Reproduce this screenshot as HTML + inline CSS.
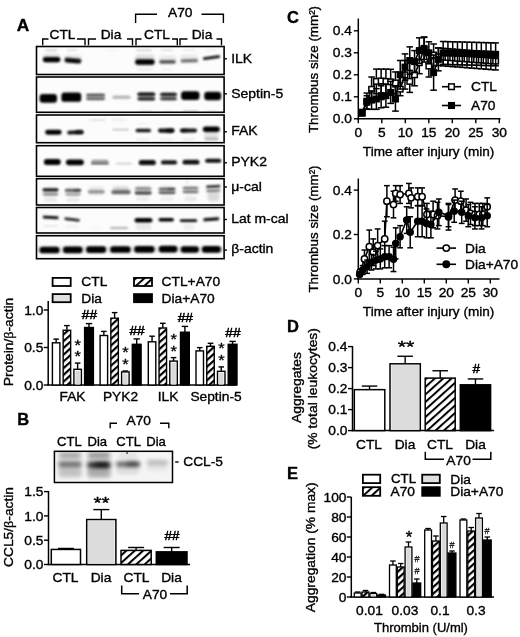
<!DOCTYPE html>
<html><head><meta charset="utf-8"><title>Figure</title>
<style>
html,body{margin:0;padding:0;background:#fff;}
body{width:520px;height:637px;overflow:hidden;}
svg{display:block;font-family:"Liberation Sans",Arial,sans-serif;}
</style></head><body>
<svg width="520" height="637" viewBox="0 0 520 637">
<rect width="520" height="637" fill="#fff"/>
<defs>
<filter id="bl" x="-30%" y="-100%" width="160%" height="300%"><feGaussianBlur stdDeviation="1.25 0.95"/></filter>
<filter id="bl2" x="-30%" y="-100%" width="160%" height="300%"><feGaussianBlur stdDeviation="1.8 1.4"/></filter>
<filter id="bl3" x="-30%" y="-100%" width="160%" height="300%"><feGaussianBlur stdDeviation="2.3 1.9"/></filter>
<filter id="soft" x="-5%" y="-5%" width="110%" height="110%"><feGaussianBlur stdDeviation="0.35"/></filter>
<pattern id="hat" width="5" height="5" patternUnits="userSpaceOnUse" patternTransform="rotate(-42)"><rect width="5" height="5" fill="#fff"/><rect width="5" height="2.2" fill="#000"/></pattern>
<pattern id="hat2" width="5.6" height="5.6" patternUnits="userSpaceOnUse" patternTransform="rotate(-42)"><rect width="5.6" height="5.6" fill="#fff"/><rect width="5.6" height="2.0" fill="#000"/></pattern>
</defs>
<text transform="translate(16.70,30.60) scale(1.05,1)" font-size="16.5" text-anchor="start" font-weight="bold" fill="#000" stroke="#000" stroke-width="0.35">A</text>
<text transform="translate(17.30,425.00) scale(1.0,1)" font-size="16.5" text-anchor="start" font-weight="bold" fill="#000" stroke="#000" stroke-width="0.35">B</text>
<text transform="translate(287.00,23.00) scale(1.0,1)" font-size="16.5" text-anchor="start" font-weight="bold" fill="#000" stroke="#000" stroke-width="0.35">C</text>
<text transform="translate(287.00,332.00) scale(1.0,1)" font-size="16.5" text-anchor="start" font-weight="bold" fill="#000" stroke="#000" stroke-width="0.35">D</text>
<text transform="translate(287.00,478.70) scale(1.0,1)" font-size="16.5" text-anchor="start" font-weight="bold" fill="#000" stroke="#000" stroke-width="0.35">E</text>
<rect x="36.50" y="46.50" width="187.60" height="28.00" fill="#fcfcfc" stroke="#000" stroke-width="1.6"/>
<clipPath id="c46"><rect x="37.2" y="47.2" width="186.2" height="26.6"/></clipPath>
<g clip-path="url(#c46)">
<rect x="42.90" y="56.95" width="17.40" height="5.30" rx="2.65" fill="#000" opacity="1.0" filter="url(#bl)"/>
<rect x="64.45" y="58.15" width="16.90" height="4.90" rx="2.45" fill="#000" opacity="0.97" filter="url(#bl)" transform="rotate(5 72.9 60.6)"/>
<rect x="135.20" y="59.25" width="19.40" height="5.50" rx="2.75" fill="#000" opacity="1.0" filter="url(#bl)"/>
<rect x="159.30" y="60.15" width="16.40" height="3.30" rx="1.65" fill="#000" opacity="0.68" filter="url(#bl)"/>
<rect x="180.60" y="59.25" width="17.40" height="3.10" rx="1.55" fill="#000" opacity="0.55" filter="url(#bl)" transform="rotate(-2 189.3 60.8)"/>
<rect x="202.80" y="56.15" width="17.40" height="2.90" rx="1.45" fill="#000" opacity="0.97" filter="url(#bl)" transform="rotate(-8 211.5 57.6)"/>
<rect x="44.80" y="49.75" width="12.40" height="0.90" rx="0.45" fill="#000" opacity="0.3" filter="url(#bl)"/>
<rect x="66.80" y="49.75" width="10.40" height="0.90" rx="0.45" fill="#000" opacity="0.22" filter="url(#bl)"/>
<rect x="136.30" y="49.65" width="15.40" height="1.10" rx="0.55" fill="#000" opacity="0.3" filter="url(#bl)"/>
<rect x="160.80" y="49.75" width="12.40" height="0.90" rx="0.45" fill="#000" opacity="0.2" filter="url(#bl)"/>
<rect x="182.30" y="49.75" width="13.40" height="0.90" rx="0.45" fill="#000" opacity="0.13" filter="url(#bl)"/>
<rect x="205.30" y="49.55" width="11.40" height="0.90" rx="0.45" fill="#000" opacity="0.1" filter="url(#bl)"/>
<rect x="106.30" y="50.05" width="11.40" height="0.90" rx="0.45" fill="#000" opacity="0.07" filter="url(#bl)"/>
<rect x="137.30" y="68.85" width="15.40" height="1.30" rx="0.65" fill="#000" opacity="0.1" filter="url(#bl)"/>
<rect x="161.30" y="68.85" width="11.40" height="1.30" rx="0.65" fill="#000" opacity="0.06" filter="url(#bl)"/>
<rect x="42.80" y="53.50" width="17.60" height="9.00" rx="3.20" fill="#000" opacity="0.1" filter="url(#bl2)"/>
<rect x="64.10" y="54.50" width="17.60" height="9.00" rx="3.20" fill="#000" opacity="0.08" filter="url(#bl2)"/>
<rect x="135.10" y="54.50" width="19.60" height="11.00" rx="3.20" fill="#000" opacity="0.12" filter="url(#bl2)"/>
<rect x="158.70" y="55.50" width="17.60" height="9.00" rx="3.20" fill="#000" opacity="0.08" filter="url(#bl2)"/>
<rect x="180.50" y="54.50" width="17.60" height="9.00" rx="3.20" fill="#000" opacity="0.07" filter="url(#bl2)"/>
</g>
<line x1="224.40" y1="58.80" x2="226.90" y2="58.80" stroke="#000" stroke-width="1.4" stroke-linecap="butt"/>
<text transform="translate(231.20,62.90) scale(1.075,1)" font-size="13" text-anchor="start" fill="#000" stroke="#000" stroke-width="0.35">ILK</text>
<rect x="36.50" y="77.00" width="187.60" height="35.30" fill="#fcfcfc" stroke="#000" stroke-width="1.6"/>
<clipPath id="c77"><rect x="37.2" y="77.7" width="186.2" height="33.9"/></clipPath>
<g clip-path="url(#c77)">
<rect x="39.60" y="93.90" width="17.40" height="8.80" rx="3.20" fill="#000" opacity="1.0" filter="url(#bl)"/>
<rect x="61.35" y="92.55" width="19.90" height="9.30" rx="3.20" fill="#000" opacity="1.0" filter="url(#bl)"/>
<rect x="86.15" y="93.85" width="18.90" height="2.30" rx="1.15" fill="#000" opacity="0.62" filter="url(#bl)"/>
<rect x="86.15" y="97.55" width="18.90" height="2.50" rx="1.25" fill="#000" opacity="0.55" filter="url(#bl)"/>
<rect x="86.40" y="93.85" width="18.40" height="6.30" rx="3.15" fill="#000" opacity="0.18" filter="url(#bl)"/>
<rect x="112.30" y="95.95" width="18.40" height="2.90" rx="1.45" fill="#000" opacity="0.3" filter="url(#bl)"/>
<rect x="113.30" y="94.75" width="16.40" height="0.90" rx="0.45" fill="#000" opacity="0.1" filter="url(#bl)"/>
<rect x="137.35" y="92.55" width="17.90" height="3.30" rx="1.65" fill="#000" opacity="0.92" filter="url(#bl)"/>
<rect x="137.35" y="97.15" width="17.90" height="3.30" rx="1.65" fill="#000" opacity="0.8" filter="url(#bl)"/>
<rect x="138.50" y="93.40" width="15.60" height="6.00" rx="3.00" fill="#000" opacity="0.35" filter="url(#bl2)"/>
<rect x="160.05" y="92.85" width="16.90" height="3.10" rx="1.55" fill="#000" opacity="0.85" filter="url(#bl)"/>
<rect x="160.05" y="97.25" width="16.90" height="3.10" rx="1.55" fill="#000" opacity="0.7" filter="url(#bl)"/>
<rect x="161.20" y="93.40" width="14.60" height="6.00" rx="3.00" fill="#000" opacity="0.3" filter="url(#bl2)"/>
<rect x="181.10" y="91.20" width="18.40" height="8.80" rx="3.20" fill="#000" opacity="1.0" filter="url(#bl)"/>
<rect x="204.25" y="91.85" width="16.90" height="8.30" rx="3.20" fill="#000" opacity="1.0" filter="url(#bl)"/>
<rect x="139.30" y="110.85" width="13.40" height="0.90" rx="0.45" fill="#000" opacity="0.22" filter="url(#bl)"/>
<rect x="162.30" y="110.85" width="11.40" height="0.90" rx="0.45" fill="#000" opacity="0.12" filter="url(#bl)"/>
<rect x="182.80" y="110.65" width="15.40" height="1.10" rx="0.55" fill="#000" opacity="0.42" filter="url(#bl)"/>
<rect x="206.30" y="110.85" width="11.40" height="0.90" rx="0.45" fill="#000" opacity="0.18" filter="url(#bl)"/>
</g>
<line x1="224.40" y1="93.80" x2="226.90" y2="93.80" stroke="#000" stroke-width="1.4" stroke-linecap="butt"/>
<text transform="translate(231.20,97.50) scale(1.075,1)" font-size="13" text-anchor="start" fill="#000" stroke="#000" stroke-width="0.35">Septin-5</text>
<rect x="36.50" y="115.00" width="187.60" height="27.70" fill="#fcfcfc" stroke="#000" stroke-width="1.6"/>
<clipPath id="c115"><rect x="37.2" y="115.7" width="186.2" height="26.29999999999999"/></clipPath>
<g clip-path="url(#c115)">
<rect x="45.20" y="129.75" width="16.40" height="4.90" rx="2.45" fill="#000" opacity="1.0" filter="url(#bl)"/>
<rect x="67.20" y="130.45" width="16.40" height="3.90" rx="1.95" fill="#000" opacity="0.95" filter="url(#bl)" transform="rotate(-2 75.4 132.4)"/>
<rect x="74.80" y="130.05" width="8.40" height="4.30" rx="2.15" fill="#000" opacity="0.5" filter="url(#bl)"/>
<rect x="89.10" y="119.55" width="16.40" height="0.90" rx="0.45" fill="#000" opacity="0.2" filter="url(#bl)"/>
<rect x="112.30" y="119.55" width="14.40" height="0.90" rx="0.45" fill="#000" opacity="0.14" filter="url(#bl)"/>
<rect x="112.30" y="129.05" width="16.40" height="1.30" rx="0.65" fill="#000" opacity="0.3" filter="url(#bl)"/>
<rect x="135.60" y="128.65" width="15.40" height="3.70" rx="1.85" fill="#000" opacity="0.92" filter="url(#bl)"/>
<rect x="158.00" y="128.55" width="16.40" height="4.10" rx="2.05" fill="#000" opacity="0.95" filter="url(#bl)"/>
<rect x="165.80" y="128.55" width="8.40" height="4.10" rx="2.05" fill="#000" opacity="0.5" filter="url(#bl)"/>
<rect x="180.15" y="128.55" width="16.90" height="3.90" rx="1.95" fill="#000" opacity="0.92" filter="url(#bl)"/>
<rect x="180.30" y="128.65" width="7.40" height="3.70" rx="1.85" fill="#000" opacity="0.4" filter="url(#bl)"/>
<rect x="202.85" y="126.55" width="16.90" height="5.50" rx="2.75" fill="#000" opacity="1.0" filter="url(#bl)"/>
<rect x="136.30" y="138.65" width="13.40" height="1.30" rx="0.65" fill="#000" opacity="0.1" filter="url(#bl)"/>
<rect x="159.30" y="138.65" width="13.40" height="1.30" rx="0.65" fill="#000" opacity="0.1" filter="url(#bl)"/>
<rect x="181.80" y="138.65" width="13.40" height="1.30" rx="0.65" fill="#000" opacity="0.12" filter="url(#bl)"/>
<rect x="204.30" y="137.85" width="14.40" height="2.30" rx="1.15" fill="#000" opacity="0.24" filter="url(#bl)"/>
<rect x="204.50" y="128.50" width="13.60" height="11.00" rx="3.20" fill="#000" opacity="0.1" filter="url(#bl2)"/>
<rect x="137.30" y="123.05" width="11.40" height="0.90" rx="0.45" fill="#000" opacity="0.06" filter="url(#bl)"/>
</g>
<line x1="224.40" y1="131.80" x2="226.90" y2="131.80" stroke="#000" stroke-width="1.4" stroke-linecap="butt"/>
<text transform="translate(231.20,134.80) scale(1.075,1)" font-size="13" text-anchor="start" fill="#000" stroke="#000" stroke-width="0.35">FAK</text>
<rect x="36.50" y="145.70" width="187.60" height="30.60" fill="#fcfcfc" stroke="#000" stroke-width="1.6"/>
<clipPath id="c145"><rect x="37.2" y="146.39999999999998" width="186.2" height="29.200000000000024"/></clipPath>
<g clip-path="url(#c145)">
<rect x="43.85" y="159.05" width="16.90" height="5.90" rx="2.95" fill="#000" opacity="1.0" filter="url(#bl)"/>
<rect x="65.95" y="159.45" width="17.90" height="5.70" rx="2.85" fill="#000" opacity="1.0" filter="url(#bl)"/>
<rect x="90.95" y="162.95" width="17.90" height="1.30" rx="0.65" fill="#000" opacity="0.85" filter="url(#bl)"/>
<rect x="91.20" y="159.65" width="17.40" height="3.70" rx="1.85" fill="#000" opacity="0.38" filter="url(#bl)"/>
<rect x="115.85" y="163.05" width="15.90" height="1.10" rx="0.55" fill="#000" opacity="0.26" filter="url(#bl)"/>
<rect x="138.85" y="160.05" width="16.90" height="4.70" rx="2.35" fill="#000" opacity="0.95" filter="url(#bl)"/>
<rect x="138.85" y="162.65" width="16.90" height="1.90" rx="0.95" fill="#000" opacity="0.6" filter="url(#bl)"/>
<rect x="161.05" y="160.25" width="15.90" height="3.90" rx="1.95" fill="#000" opacity="0.9" filter="url(#bl)"/>
<rect x="161.05" y="162.75" width="15.90" height="1.30" rx="0.65" fill="#000" opacity="0.5" filter="url(#bl)"/>
<rect x="182.55" y="159.75" width="16.90" height="4.50" rx="2.25" fill="#000" opacity="0.92" filter="url(#bl)"/>
<rect x="182.55" y="162.45" width="16.90" height="1.50" rx="0.75" fill="#000" opacity="0.5" filter="url(#bl)"/>
<rect x="205.25" y="158.65" width="15.90" height="3.90" rx="1.95" fill="#000" opacity="0.95" filter="url(#bl)"/>
<rect x="205.25" y="160.95" width="15.90" height="1.30" rx="0.65" fill="#000" opacity="0.5" filter="url(#bl)"/>
</g>
<line x1="224.40" y1="162.80" x2="226.90" y2="162.80" stroke="#000" stroke-width="1.4" stroke-linecap="butt"/>
<text transform="translate(231.20,166.00) scale(1.075,1)" font-size="13" text-anchor="start" fill="#000" stroke="#000" stroke-width="0.35">PYK2</text>
<rect x="36.50" y="178.70" width="187.60" height="26.30" fill="#fcfcfc" stroke="#000" stroke-width="1.6"/>
<clipPath id="c178"><rect x="37.2" y="179.39999999999998" width="186.2" height="24.900000000000013"/></clipPath>
<g clip-path="url(#c178)">
<rect x="42.55" y="188.45" width="15.90" height="2.70" rx="1.35" fill="#000" opacity="0.97" filter="url(#bl)"/>
<rect x="42.80" y="193.35" width="15.40" height="1.90" rx="0.95" fill="#000" opacity="0.42" filter="url(#bl)"/>
<rect x="43.20" y="187.50" width="14.60" height="9.00" rx="3.20" fill="#000" opacity="0.14" filter="url(#bl2)"/>
<rect x="64.80" y="189.35" width="16.40" height="2.10" rx="1.05" fill="#000" opacity="0.7" filter="url(#bl)"/>
<rect x="73.30" y="189.35" width="7.40" height="2.10" rx="1.05" fill="#000" opacity="0.35" filter="url(#bl)"/>
<rect x="65.30" y="193.45" width="15.40" height="1.70" rx="0.85" fill="#000" opacity="0.36" filter="url(#bl)"/>
<rect x="65.70" y="187.50" width="14.60" height="9.00" rx="3.20" fill="#000" opacity="0.12" filter="url(#bl2)"/>
<rect x="87.85" y="190.45" width="16.90" height="2.70" rx="1.35" fill="#000" opacity="0.4" filter="url(#bl)"/>
<rect x="88.50" y="187.00" width="15.60" height="8.00" rx="3.20" fill="#000" opacity="0.1" filter="url(#bl2)"/>
<rect x="111.30" y="190.35" width="19.40" height="3.90" rx="1.95" fill="#000" opacity="0.55" filter="url(#bl)"/>
<rect x="112.70" y="186.50" width="16.60" height="6.00" rx="3.00" fill="#000" opacity="0.16" filter="url(#bl2)"/>
<rect x="135.00" y="187.45" width="16.40" height="2.10" rx="1.05" fill="#000" opacity="0.45" filter="url(#bl)"/>
<rect x="134.75" y="191.55" width="16.90" height="2.90" rx="1.45" fill="#000" opacity="0.7" filter="url(#bl)"/>
<rect x="135.40" y="186.50" width="15.60" height="8.00" rx="3.20" fill="#000" opacity="0.16" filter="url(#bl2)"/>
<rect x="158.65" y="187.95" width="16.90" height="2.10" rx="1.05" fill="#000" opacity="0.62" filter="url(#bl)"/>
<rect x="167.30" y="188.05" width="7.40" height="1.90" rx="0.95" fill="#000" opacity="0.3" filter="url(#bl)"/>
<rect x="158.65" y="191.45" width="16.90" height="2.30" rx="1.15" fill="#000" opacity="0.68" filter="url(#bl)"/>
<rect x="159.30" y="186.50" width="15.60" height="8.00" rx="3.20" fill="#000" opacity="0.16" filter="url(#bl2)"/>
<rect x="182.65" y="187.05" width="15.90" height="1.90" rx="0.95" fill="#000" opacity="0.5" filter="url(#bl)"/>
<rect x="182.65" y="190.75" width="15.90" height="2.10" rx="1.05" fill="#000" opacity="0.56" filter="url(#bl)"/>
<rect x="183.30" y="186.00" width="14.60" height="8.00" rx="3.20" fill="#000" opacity="0.14" filter="url(#bl2)"/>
<rect x="206.00" y="185.35" width="14.40" height="2.50" rx="1.25" fill="#000" opacity="0.9" filter="url(#bl)" transform="rotate(-3 213.2 186.6)"/>
<rect x="206.00" y="189.65" width="14.40" height="1.90" rx="0.95" fill="#000" opacity="0.66" filter="url(#bl)" transform="rotate(-3 213.2 190.6)"/>
<rect x="207.70" y="190.50" width="11.60" height="11.00" rx="3.20" fill="#000" opacity="0.13" filter="url(#bl2)"/>
<rect x="43.80" y="198.35" width="13.40" height="3.30" rx="1.65" fill="#000" opacity="0.08" filter="url(#bl)"/>
<rect x="66.30" y="198.35" width="13.40" height="3.30" rx="1.65" fill="#000" opacity="0.08" filter="url(#bl)"/>
<rect x="136.30" y="197.35" width="13.40" height="3.30" rx="1.65" fill="#000" opacity="0.07" filter="url(#bl)"/>
<rect x="160.30" y="197.35" width="13.40" height="3.30" rx="1.65" fill="#000" opacity="0.06" filter="url(#bl)"/>
<rect x="184.40" y="196.85" width="12.40" height="4.30" rx="2.15" fill="#000" opacity="0.08" filter="url(#bl)"/>
<rect x="186.70" y="181.55" width="1.20" height="0.90" rx="0.45" fill="#000" opacity="0.7" filter="url(#bl)"/>
<rect x="184.10" y="183.05" width="0.80" height="0.90" rx="0.40" fill="#000" opacity="0.35" filter="url(#bl)"/>
</g>
<line x1="224.40" y1="187.00" x2="226.90" y2="187.00" stroke="#000" stroke-width="1.4" stroke-linecap="butt"/>
<text transform="translate(231.20,190.50) scale(1.075,1)" font-size="13" text-anchor="start" fill="#000" stroke="#000" stroke-width="0.35">μ-cal</text>
<rect x="36.50" y="207.50" width="187.60" height="25.50" fill="#fcfcfc" stroke="#000" stroke-width="1.6"/>
<clipPath id="c207"><rect x="37.2" y="208.2" width="186.2" height="24.1"/></clipPath>
<g clip-path="url(#c207)">
<rect x="42.75" y="215.95" width="15.90" height="2.90" rx="1.45" fill="#000" opacity="1.0" filter="url(#bl)" transform="rotate(3 50.7 217.4)"/>
<rect x="64.40" y="218.15" width="15.40" height="2.50" rx="1.25" fill="#000" opacity="0.95" filter="url(#bl)" transform="rotate(7 72.1 219.4)"/>
<rect x="43.50" y="225.35" width="14.40" height="1.30" rx="0.65" fill="#000" opacity="0.1" filter="url(#bl)"/>
<rect x="65.30" y="225.85" width="13.40" height="1.30" rx="0.65" fill="#000" opacity="0.07" filter="url(#bl)"/>
<rect x="89.30" y="227.55" width="13.40" height="0.90" rx="0.45" fill="#000" opacity="0.07" filter="url(#bl)"/>
<rect x="110.05" y="227.15" width="17.90" height="1.70" rx="0.85" fill="#000" opacity="0.4" filter="url(#bl)"/>
<rect x="134.55" y="217.95" width="17.90" height="4.50" rx="2.25" fill="#000" opacity="1.0" filter="url(#bl)"/>
<rect x="158.50" y="218.05" width="15.40" height="3.50" rx="1.75" fill="#000" opacity="1.0" filter="url(#bl)"/>
<rect x="179.80" y="219.25" width="17.40" height="2.70" rx="1.35" fill="#000" opacity="0.97" filter="url(#bl)"/>
<rect x="203.25" y="217.85" width="15.90" height="2.90" rx="1.45" fill="#000" opacity="1.0" filter="url(#bl)" transform="rotate(-4 211.2 219.3)"/>
<rect x="135.80" y="223.85" width="15.40" height="6.30" rx="3.15" fill="#000" opacity="0.07" filter="url(#bl)"/>
<rect x="182.80" y="223.85" width="11.40" height="6.30" rx="3.15" fill="#000" opacity="0.05" filter="url(#bl)"/>
</g>
<line x1="224.40" y1="219.50" x2="226.90" y2="219.50" stroke="#000" stroke-width="1.4" stroke-linecap="butt"/>
<text transform="translate(231.20,223.10) scale(1.075,1)" font-size="13" text-anchor="start" fill="#000" stroke="#000" stroke-width="0.35">Lat m-cal</text>
<rect x="36.50" y="235.70" width="187.60" height="23.00" fill="#fcfcfc" stroke="#000" stroke-width="1.6"/>
<clipPath id="c235"><rect x="37.2" y="236.39999999999998" width="186.2" height="21.6"/></clipPath>
<g clip-path="url(#c235)">
<rect x="39.55" y="246.65" width="19.90" height="6.70" rx="3.20" fill="#000" opacity="1.0" filter="url(#bl)"/>
<rect x="63.00" y="246.45" width="19.60" height="6.70" rx="3.20" fill="#000" opacity="1.0" filter="url(#bl)"/>
<rect x="86.10" y="246.25" width="20.00" height="6.70" rx="3.20" fill="#000" opacity="1.0" filter="url(#bl)"/>
<rect x="110.20" y="246.15" width="20.40" height="6.70" rx="3.20" fill="#000" opacity="1.0" filter="url(#bl)"/>
<rect x="134.20" y="245.95" width="20.40" height="6.70" rx="3.20" fill="#000" opacity="1.0" filter="url(#bl)"/>
<rect x="158.80" y="245.85" width="18.60" height="6.70" rx="3.20" fill="#000" opacity="1.0" filter="url(#bl)"/>
<rect x="180.70" y="246.15" width="18.20" height="6.50" rx="3.20" fill="#000" opacity="1.0" filter="url(#bl)"/>
<rect x="201.90" y="246.05" width="19.00" height="6.70" rx="3.20" fill="#000" opacity="1.0" filter="url(#bl)"/>
<rect x="32.20" y="246.50" width="197.60" height="6.00" rx="3.00" fill="#000" opacity="0.1" filter="url(#bl2)"/>
</g>
<line x1="224.40" y1="250.10" x2="226.90" y2="250.10" stroke="#000" stroke-width="1.4" stroke-linecap="butt"/>
<text transform="translate(231.20,252.70) scale(1.075,1)" font-size="13" text-anchor="start" fill="#000" stroke="#000" stroke-width="0.35">β-actin</text>
<path d="M42.7,45.3 V39 H48.5" fill="none" stroke="#000" stroke-width="1.4" stroke-linejoin="miter"/>
<path d="M77,39 H85 V45.3" fill="none" stroke="#000" stroke-width="1.4" stroke-linejoin="miter"/>
<path d="M88.5,45.3 V39 H96" fill="none" stroke="#000" stroke-width="1.4" stroke-linejoin="miter"/>
<path d="M127,39 H132.5 V45.3" fill="none" stroke="#000" stroke-width="1.4" stroke-linejoin="miter"/>
<path d="M136,45.3 V39 H141.5" fill="none" stroke="#000" stroke-width="1.4" stroke-linejoin="miter"/>
<path d="M172,39 H177.3 V45.3" fill="none" stroke="#000" stroke-width="1.4" stroke-linejoin="miter"/>
<path d="M180,45.3 V39 H187.5" fill="none" stroke="#000" stroke-width="1.4" stroke-linejoin="miter"/>
<path d="M216.5,39 H221.5 V45.3" fill="none" stroke="#000" stroke-width="1.4" stroke-linejoin="miter"/>
<path d="M135.6,23 V14.3 H157" fill="none" stroke="#000" stroke-width="1.4" stroke-linejoin="miter"/>
<path d="M201.5,14.3 H223.4 V23" fill="none" stroke="#000" stroke-width="1.4" stroke-linejoin="miter"/>
<text transform="translate(62.50,39.30) scale(1.06,1)" font-size="13" text-anchor="middle" fill="#000" stroke="#000" stroke-width="0.35">CTL</text>
<text transform="translate(111.00,39.30) scale(1.06,1)" font-size="13" text-anchor="middle" fill="#000" stroke="#000" stroke-width="0.35">Dia</text>
<text transform="translate(157.00,39.30) scale(1.06,1)" font-size="13" text-anchor="middle" fill="#000" stroke="#000" stroke-width="0.35">CTL</text>
<text transform="translate(202.00,39.30) scale(1.06,1)" font-size="13" text-anchor="middle" fill="#000" stroke="#000" stroke-width="0.35">Dia</text>
<text transform="translate(180.20,17.20) scale(1.06,1)" font-size="13" text-anchor="middle" fill="#000" stroke="#000" stroke-width="0.35">A70</text>
<rect x="52.60" y="277.90" width="18.10" height="8.10" fill="#fff" stroke="#000" stroke-width="1.8"/>
<rect x="52.60" y="294.10" width="18.10" height="8.10" fill="#e0e0e0" stroke="#000" stroke-width="1.8"/>
<rect x="134.00" y="277.90" width="18.00" height="8.10" fill="url(#hat2)" stroke="#000" stroke-width="1.8"/>
<rect x="134.00" y="294.10" width="18.00" height="8.10" fill="#000" stroke="#000" stroke-width="1.8"/>
<text transform="translate(81.30,286.20) scale(1.06,1)" font-size="13" text-anchor="start" fill="#000" stroke="#000" stroke-width="0.35">CTL</text>
<text transform="translate(81.30,302.50) scale(1.06,1)" font-size="13" text-anchor="start" fill="#000" stroke="#000" stroke-width="0.35">Dia</text>
<text transform="translate(161.60,286.20) scale(1.06,1)" font-size="13" text-anchor="start" fill="#000" stroke="#000" stroke-width="0.35">CTL+A70</text>
<text transform="translate(161.60,302.50) scale(1.06,1)" font-size="13" text-anchor="start" fill="#000" stroke="#000" stroke-width="0.35">Dia+A70</text>
<line x1="48.20" y1="301.00" x2="48.20" y2="385.75" stroke="#000" stroke-width="1.5" stroke-linecap="butt"/>
<line x1="47.45" y1="385.00" x2="236.00" y2="385.00" stroke="#000" stroke-width="1.5" stroke-linecap="butt"/>
<line x1="43.70" y1="385.00" x2="48.20" y2="385.00" stroke="#000" stroke-width="1.4" stroke-linecap="butt"/>
<text transform="translate(43.30,389.60) scale(1.06,1)" font-size="13" text-anchor="end" fill="#000" stroke="#000" stroke-width="0.35">0.0</text>
<line x1="43.70" y1="347.50" x2="48.20" y2="347.50" stroke="#000" stroke-width="1.4" stroke-linecap="butt"/>
<text transform="translate(43.30,352.10) scale(1.06,1)" font-size="13" text-anchor="end" fill="#000" stroke="#000" stroke-width="0.35">0.5</text>
<line x1="43.70" y1="310.00" x2="48.20" y2="310.00" stroke="#000" stroke-width="1.4" stroke-linecap="butt"/>
<text transform="translate(43.30,314.60) scale(1.06,1)" font-size="13" text-anchor="end" fill="#000" stroke="#000" stroke-width="0.35">1.0</text>
<text transform="translate(12.70,342.00) rotate(-90) scale(1.06,1)" font-size="13" text-anchor="middle" fill="#000" stroke="#000" stroke-width="0.35">Protein/<tspan font-family="Liberation Serif, serif" font-size="13.5">β</tspan>-actin</text>
<line x1="56.15" y1="342.80" x2="56.15" y2="339.10" stroke="#000" stroke-width="1.4" stroke-linecap="butt"/>
<line x1="53.35" y1="339.10" x2="58.95" y2="339.10" stroke="#000" stroke-width="1.4" stroke-linecap="butt"/>
<rect x="52.40" y="342.80" width="7.50" height="42.20" fill="#fff" stroke="#000" stroke-width="1.4"/>
<line x1="66.90" y1="330.30" x2="66.90" y2="325.60" stroke="#000" stroke-width="1.4" stroke-linecap="butt"/>
<line x1="64.10" y1="325.60" x2="69.70" y2="325.60" stroke="#000" stroke-width="1.4" stroke-linecap="butt"/>
<rect x="63.15" y="330.30" width="7.50" height="54.70" fill="url(#hat)" stroke="#000" stroke-width="1.4"/>
<line x1="77.65" y1="369.30" x2="77.65" y2="363.10" stroke="#000" stroke-width="1.4" stroke-linecap="butt"/>
<line x1="74.85" y1="363.10" x2="80.45" y2="363.10" stroke="#000" stroke-width="1.4" stroke-linecap="butt"/>
<rect x="73.90" y="369.30" width="7.50" height="15.70" fill="#fff" stroke="#000" stroke-width="1.4"/>
<rect x="75.40" y="370.90" width="4.50" height="13.70" fill="#d9d9d9"/>
<line x1="89.00" y1="327.50" x2="89.00" y2="323.60" stroke="#000" stroke-width="1.4" stroke-linecap="butt"/>
<line x1="85.80" y1="323.60" x2="92.20" y2="323.60" stroke="#000" stroke-width="1.4" stroke-linecap="butt"/>
<rect x="84.60" y="327.50" width="8.80" height="57.50" fill="#000" stroke="#000" stroke-width="1.4"/>
<text transform="translate(72.50,401.30) scale(1.06,1)" font-size="13" text-anchor="middle" fill="#000" stroke="#000" stroke-width="0.35">FAK</text>
<text transform="translate(77.80,361.00) scale(1.06,1)" font-size="15.5" text-anchor="middle" fill="#000" stroke="#000" stroke-width="0.35">*</text>
<text transform="translate(77.80,349.50) scale(1.06,1)" font-size="15.5" text-anchor="middle" fill="#000" stroke="#000" stroke-width="0.35">*</text>
<text transform="translate(89.40,319.20) scale(1.02,1)" font-size="13.5" text-anchor="middle" fill="#000" stroke="#000" stroke-width="0.55">##</text>
<line x1="103.85" y1="335.50" x2="103.85" y2="331.40" stroke="#000" stroke-width="1.4" stroke-linecap="butt"/>
<line x1="101.05" y1="331.40" x2="106.65" y2="331.40" stroke="#000" stroke-width="1.4" stroke-linecap="butt"/>
<rect x="100.10" y="335.50" width="7.50" height="49.50" fill="#fff" stroke="#000" stroke-width="1.4"/>
<line x1="114.60" y1="318.20" x2="114.60" y2="312.60" stroke="#000" stroke-width="1.4" stroke-linecap="butt"/>
<line x1="111.80" y1="312.60" x2="117.40" y2="312.60" stroke="#000" stroke-width="1.4" stroke-linecap="butt"/>
<rect x="110.85" y="318.20" width="7.50" height="66.80" fill="url(#hat)" stroke="#000" stroke-width="1.4"/>
<line x1="125.35" y1="371.90" x2="125.35" y2="371.00" stroke="#000" stroke-width="1.4" stroke-linecap="butt"/>
<line x1="122.55" y1="371.00" x2="128.15" y2="371.00" stroke="#000" stroke-width="1.4" stroke-linecap="butt"/>
<rect x="121.60" y="371.90" width="7.50" height="13.10" fill="#fff" stroke="#000" stroke-width="1.4"/>
<rect x="123.10" y="373.50" width="4.50" height="11.10" fill="#d9d9d9"/>
<line x1="136.70" y1="344.30" x2="136.70" y2="338.90" stroke="#000" stroke-width="1.4" stroke-linecap="butt"/>
<line x1="133.50" y1="338.90" x2="139.90" y2="338.90" stroke="#000" stroke-width="1.4" stroke-linecap="butt"/>
<rect x="132.30" y="344.30" width="8.80" height="40.70" fill="#000" stroke="#000" stroke-width="1.4"/>
<text transform="translate(120.50,401.30) scale(1.06,1)" font-size="13" text-anchor="middle" fill="#000" stroke="#000" stroke-width="0.35">PYK2</text>
<text transform="translate(125.50,368.90) scale(1.06,1)" font-size="15.5" text-anchor="middle" fill="#000" stroke="#000" stroke-width="0.35">*</text>
<text transform="translate(125.50,357.40) scale(1.06,1)" font-size="15.5" text-anchor="middle" fill="#000" stroke="#000" stroke-width="0.35">*</text>
<text transform="translate(137.10,334.50) scale(1.02,1)" font-size="13.5" text-anchor="middle" fill="#000" stroke="#000" stroke-width="0.55">##</text>
<line x1="152.05" y1="341.80" x2="152.05" y2="336.20" stroke="#000" stroke-width="1.4" stroke-linecap="butt"/>
<line x1="149.25" y1="336.20" x2="154.85" y2="336.20" stroke="#000" stroke-width="1.4" stroke-linecap="butt"/>
<rect x="148.30" y="341.80" width="7.50" height="43.20" fill="#fff" stroke="#000" stroke-width="1.4"/>
<line x1="162.80" y1="328.00" x2="162.80" y2="323.30" stroke="#000" stroke-width="1.4" stroke-linecap="butt"/>
<line x1="160.00" y1="323.30" x2="165.60" y2="323.30" stroke="#000" stroke-width="1.4" stroke-linecap="butt"/>
<rect x="159.05" y="328.00" width="7.50" height="57.00" fill="url(#hat)" stroke="#000" stroke-width="1.4"/>
<line x1="173.55" y1="361.10" x2="173.55" y2="357.60" stroke="#000" stroke-width="1.4" stroke-linecap="butt"/>
<line x1="170.75" y1="357.60" x2="176.35" y2="357.60" stroke="#000" stroke-width="1.4" stroke-linecap="butt"/>
<rect x="169.80" y="361.10" width="7.50" height="23.90" fill="#fff" stroke="#000" stroke-width="1.4"/>
<rect x="171.30" y="362.70" width="4.50" height="21.90" fill="#d9d9d9"/>
<line x1="184.90" y1="332.20" x2="184.90" y2="326.40" stroke="#000" stroke-width="1.4" stroke-linecap="butt"/>
<line x1="181.70" y1="326.40" x2="188.10" y2="326.40" stroke="#000" stroke-width="1.4" stroke-linecap="butt"/>
<rect x="180.50" y="332.20" width="8.80" height="52.80" fill="#000" stroke="#000" stroke-width="1.4"/>
<text transform="translate(168.00,401.30) scale(1.06,1)" font-size="13" text-anchor="middle" fill="#000" stroke="#000" stroke-width="0.35">ILK</text>
<text transform="translate(173.70,355.50) scale(1.06,1)" font-size="15.5" text-anchor="middle" fill="#000" stroke="#000" stroke-width="0.35">*</text>
<text transform="translate(173.70,344.00) scale(1.06,1)" font-size="15.5" text-anchor="middle" fill="#000" stroke="#000" stroke-width="0.35">*</text>
<text transform="translate(185.30,322.00) scale(1.02,1)" font-size="13.5" text-anchor="middle" fill="#000" stroke="#000" stroke-width="0.55">##</text>
<line x1="199.75" y1="350.90" x2="199.75" y2="347.60" stroke="#000" stroke-width="1.4" stroke-linecap="butt"/>
<line x1="196.95" y1="347.60" x2="202.55" y2="347.60" stroke="#000" stroke-width="1.4" stroke-linecap="butt"/>
<rect x="196.00" y="350.90" width="7.50" height="34.10" fill="#fff" stroke="#000" stroke-width="1.4"/>
<line x1="210.50" y1="346.30" x2="210.50" y2="343.30" stroke="#000" stroke-width="1.4" stroke-linecap="butt"/>
<line x1="207.70" y1="343.30" x2="213.30" y2="343.30" stroke="#000" stroke-width="1.4" stroke-linecap="butt"/>
<rect x="206.75" y="346.30" width="7.50" height="38.70" fill="url(#hat)" stroke="#000" stroke-width="1.4"/>
<line x1="221.25" y1="371.30" x2="221.25" y2="366.90" stroke="#000" stroke-width="1.4" stroke-linecap="butt"/>
<line x1="218.45" y1="366.90" x2="224.05" y2="366.90" stroke="#000" stroke-width="1.4" stroke-linecap="butt"/>
<rect x="217.50" y="371.30" width="7.50" height="13.70" fill="#fff" stroke="#000" stroke-width="1.4"/>
<rect x="219.00" y="372.90" width="4.50" height="11.70" fill="#d9d9d9"/>
<line x1="232.60" y1="344.30" x2="232.60" y2="341.40" stroke="#000" stroke-width="1.4" stroke-linecap="butt"/>
<line x1="229.40" y1="341.40" x2="235.80" y2="341.40" stroke="#000" stroke-width="1.4" stroke-linecap="butt"/>
<rect x="228.20" y="344.30" width="8.80" height="40.70" fill="#000" stroke="#000" stroke-width="1.4"/>
<text transform="translate(216.00,401.30) scale(1.06,1)" font-size="13" text-anchor="middle" fill="#000" stroke="#000" stroke-width="0.35">Septin-5</text>
<text transform="translate(221.40,364.80) scale(1.06,1)" font-size="15.5" text-anchor="middle" fill="#000" stroke="#000" stroke-width="0.35">*</text>
<text transform="translate(221.40,353.30) scale(1.06,1)" font-size="15.5" text-anchor="middle" fill="#000" stroke="#000" stroke-width="0.35">*</text>
<text transform="translate(233.00,337.00) scale(1.02,1)" font-size="13.5" text-anchor="middle" fill="#000" stroke="#000" stroke-width="0.55">##</text>
<path d="M110.2,428.3 V423.2 H117" fill="none" stroke="#000" stroke-width="1.4" stroke-linejoin="miter"/>
<path d="M160,423.2 H168.8 V428.3" fill="none" stroke="#000" stroke-width="1.4" stroke-linejoin="miter"/>
<text transform="translate(138.70,425.20) scale(1.06,1)" font-size="13" text-anchor="middle" fill="#000" stroke="#000" stroke-width="0.35">A70</text>
<text transform="translate(57.00,445.50) scale(1.07,1)" font-size="12.2" text-anchor="start" fill="#000" stroke="#000" stroke-width="0.35">CTL</text>
<text transform="translate(87.50,445.50) scale(1.07,1)" font-size="12.2" text-anchor="start" fill="#000" stroke="#000" stroke-width="0.35">Dia</text>
<text transform="translate(116.30,445.50) scale(1.07,1)" font-size="12.2" text-anchor="start" fill="#000" stroke="#000" stroke-width="0.35">CTL</text>
<text transform="translate(146.30,445.50) scale(1.07,1)" font-size="12.2" text-anchor="start" fill="#000" stroke="#000" stroke-width="0.35">Dia</text>
<rect x="54.40" y="451.30" width="118.10" height="31.20" fill="#f4f4f4" stroke="#000" stroke-width="1.5"/>
<clipPath id="cB"><rect x="55.1" y="452.0" width="116.7" height="29.8"/></clipPath><g clip-path="url(#cB)">
<rect x="58.5" y="462.09999999999997" width="23" height="4.2" rx="2" fill="#000" opacity="0.55" filter="url(#bl3)"/>
<rect x="59.5" y="453.25" width="21" height="4.5" rx="2" fill="#000" opacity="0.32" filter="url(#bl3)"/>
<rect x="59.0" y="463.0" width="22" height="14" rx="2" fill="#000" opacity="0.14" filter="url(#bl3)"/>
<rect x="58.0" y="451.0" width="24" height="26" rx="2" fill="#000" opacity="0.07" filter="url(#bl3)"/>
<rect x="87.5" y="462.3" width="23" height="5.0" rx="2" fill="#000" opacity="0.85" filter="url(#bl3)"/>
<rect x="94.5" y="462.8" width="14" height="4.0" rx="2" fill="#000" opacity="0.75" filter="url(#bl3)"/>
<rect x="88.5" y="453.0" width="21" height="5" rx="2" fill="#000" opacity="0.34" filter="url(#bl3)"/>
<rect x="88.0" y="464.5" width="22" height="13" rx="2" fill="#000" opacity="0.22" filter="url(#bl3)"/>
<rect x="87.0" y="451.0" width="24" height="26" rx="2" fill="#000" opacity="0.1" filter="url(#bl3)"/>
<rect x="116.0" y="462.09999999999997" width="24" height="4.2" rx="2" fill="#000" opacity="0.62" filter="url(#bl3)"/>
<rect x="126.0" y="462.2" width="13" height="3.6" rx="2" fill="#000" opacity="0.5" filter="url(#bl3)"/>
<rect x="118.0" y="454.0" width="20" height="4" rx="2" fill="#000" opacity="0.1" filter="url(#bl3)"/>
<rect x="117.0" y="462.0" width="22" height="12" rx="2" fill="#000" opacity="0.1" filter="url(#bl3)"/>
<rect x="147.0" y="460.3" width="21" height="4.4" rx="2" fill="#000" opacity="0.22" filter="url(#bl3)"/>
<rect x="147.5" y="461.0" width="20" height="10" rx="2" fill="#000" opacity="0.06" filter="url(#bl3)"/>
<rect x="126.3" y="452.2" width="1.5" height="1.6" fill="#000" opacity="0.8"/>
</g>
<line x1="175.20" y1="462.00" x2="178.60" y2="462.00" stroke="#000" stroke-width="1.4" stroke-linecap="butt"/>
<text transform="translate(183.20,465.60) scale(1.06,1)" font-size="13" text-anchor="start" fill="#000" stroke="#000" stroke-width="0.35">CCL-5</text>
<line x1="48.50" y1="491.00" x2="48.50" y2="565.25" stroke="#000" stroke-width="1.5" stroke-linecap="butt"/>
<line x1="47.75" y1="564.50" x2="190.00" y2="564.50" stroke="#000" stroke-width="1.5" stroke-linecap="butt"/>
<line x1="44.00" y1="564.50" x2="48.50" y2="564.50" stroke="#000" stroke-width="1.4" stroke-linecap="butt"/>
<text transform="translate(43.50,569.10) scale(1.06,1)" font-size="13" text-anchor="end" fill="#000" stroke="#000" stroke-width="0.35">0.0</text>
<line x1="44.00" y1="540.20" x2="48.50" y2="540.20" stroke="#000" stroke-width="1.4" stroke-linecap="butt"/>
<text transform="translate(43.50,544.80) scale(1.06,1)" font-size="13" text-anchor="end" fill="#000" stroke="#000" stroke-width="0.35">0.5</text>
<line x1="44.00" y1="515.90" x2="48.50" y2="515.90" stroke="#000" stroke-width="1.4" stroke-linecap="butt"/>
<text transform="translate(43.50,520.50) scale(1.06,1)" font-size="13" text-anchor="end" fill="#000" stroke="#000" stroke-width="0.35">1.0</text>
<line x1="44.00" y1="491.60" x2="48.50" y2="491.60" stroke="#000" stroke-width="1.4" stroke-linecap="butt"/>
<text transform="translate(43.50,496.20) scale(1.06,1)" font-size="13" text-anchor="end" fill="#000" stroke="#000" stroke-width="0.35">1.5</text>
<text transform="translate(12.70,527.00) rotate(-90) scale(1.06,1)" font-size="13" text-anchor="middle" fill="#000" stroke="#000" stroke-width="0.35">CCL5/<tspan font-family="Liberation Serif, serif" font-size="13.5">β</tspan>-actin</text>
<line x1="65.90" y1="549.43" x2="65.90" y2="548.46" stroke="#000" stroke-width="1.4" stroke-linecap="butt"/>
<line x1="57.90" y1="548.46" x2="73.90" y2="548.46" stroke="#000" stroke-width="1.4" stroke-linecap="butt"/>
<rect x="51.30" y="549.43" width="29.20" height="15.07" fill="#fff" stroke="#000" stroke-width="1.5"/>
<line x1="101.30" y1="519.54" x2="101.30" y2="509.58" stroke="#000" stroke-width="1.4" stroke-linecap="butt"/>
<line x1="93.30" y1="509.58" x2="109.30" y2="509.58" stroke="#000" stroke-width="1.4" stroke-linecap="butt"/>
<rect x="86.70" y="519.54" width="29.20" height="44.96" fill="#fff" stroke="#000" stroke-width="1.5"/>
<rect x="88.05" y="520.89" width="26.50" height="42.86" fill="#dcdcdc"/>
<line x1="136.10" y1="550.41" x2="136.10" y2="547.49" stroke="#000" stroke-width="1.4" stroke-linecap="butt"/>
<line x1="128.10" y1="547.49" x2="144.10" y2="547.49" stroke="#000" stroke-width="1.4" stroke-linecap="butt"/>
<rect x="121.00" y="550.41" width="30.20" height="14.09" fill="url(#hat2)" stroke="#000" stroke-width="1.5"/>
<line x1="171.65" y1="551.86" x2="171.65" y2="547.49" stroke="#000" stroke-width="1.4" stroke-linecap="butt"/>
<line x1="163.65" y1="547.49" x2="179.65" y2="547.49" stroke="#000" stroke-width="1.4" stroke-linecap="butt"/>
<rect x="156.30" y="551.86" width="30.70" height="12.64" fill="#000" stroke="#000" stroke-width="1.5"/>
<text transform="translate(65.50,582.30) scale(1.06,1)" font-size="13" text-anchor="middle" fill="#000" stroke="#000" stroke-width="0.35">CTL</text>
<text transform="translate(101.00,582.30) scale(1.06,1)" font-size="13" text-anchor="middle" fill="#000" stroke="#000" stroke-width="0.35">Dia</text>
<text transform="translate(136.50,582.30) scale(1.06,1)" font-size="13" text-anchor="middle" fill="#000" stroke="#000" stroke-width="0.35">CTL</text>
<text transform="translate(171.50,582.30) scale(1.06,1)" font-size="13" text-anchor="middle" fill="#000" stroke="#000" stroke-width="0.35">Dia</text>
<text transform="translate(101.50,509.00) scale(1.25,1)" font-size="16.5" text-anchor="middle" fill="#000" stroke="#000" stroke-width="0.35">**</text>
<text transform="translate(172.00,540.30) scale(1.0,1)" font-size="13.5" text-anchor="middle" fill="#000" stroke="#000" stroke-width="0.55">##</text>
<path d="M121.7,585.6 V593.8 H139" fill="none" stroke="#000" stroke-width="1.5" stroke-linejoin="miter"/>
<path d="M187.2,585.6 V593.8 H170" fill="none" stroke="#000" stroke-width="1.5" stroke-linejoin="miter"/>
<text transform="translate(155.00,599.00) scale(1.06,1)" font-size="13" text-anchor="middle" fill="#000" stroke="#000" stroke-width="0.35">A70</text>
<line x1="358.30" y1="18.50" x2="358.30" y2="119.55" stroke="#000" stroke-width="1.5" stroke-linecap="butt"/>
<line x1="357.55" y1="118.80" x2="500.50" y2="118.80" stroke="#000" stroke-width="1.5" stroke-linecap="butt"/>
<line x1="353.80" y1="118.80" x2="358.30" y2="118.80" stroke="#000" stroke-width="1.4" stroke-linecap="butt"/>
<text transform="translate(352.00,123.40) scale(1.06,1)" font-size="13" text-anchor="end" fill="#000" stroke="#000" stroke-width="0.35">0.0</text>
<line x1="353.80" y1="96.80" x2="358.30" y2="96.80" stroke="#000" stroke-width="1.4" stroke-linecap="butt"/>
<text transform="translate(352.00,101.40) scale(1.06,1)" font-size="13" text-anchor="end" fill="#000" stroke="#000" stroke-width="0.35">0.1</text>
<line x1="353.80" y1="74.80" x2="358.30" y2="74.80" stroke="#000" stroke-width="1.4" stroke-linecap="butt"/>
<text transform="translate(352.00,79.40) scale(1.06,1)" font-size="13" text-anchor="end" fill="#000" stroke="#000" stroke-width="0.35">0.2</text>
<line x1="353.80" y1="52.80" x2="358.30" y2="52.80" stroke="#000" stroke-width="1.4" stroke-linecap="butt"/>
<text transform="translate(352.00,57.40) scale(1.06,1)" font-size="13" text-anchor="end" fill="#000" stroke="#000" stroke-width="0.35">0.3</text>
<line x1="353.80" y1="30.80" x2="358.30" y2="30.80" stroke="#000" stroke-width="1.4" stroke-linecap="butt"/>
<text transform="translate(352.00,35.40) scale(1.06,1)" font-size="13" text-anchor="end" fill="#000" stroke="#000" stroke-width="0.35">0.4</text>
<line x1="358.30" y1="118.80" x2="358.30" y2="123.30" stroke="#000" stroke-width="1.4" stroke-linecap="butt"/>
<text transform="translate(358.30,136.50) scale(1.06,1)" font-size="13" text-anchor="middle" fill="#000" stroke="#000" stroke-width="0.35">0</text>
<line x1="381.80" y1="118.80" x2="381.80" y2="123.30" stroke="#000" stroke-width="1.4" stroke-linecap="butt"/>
<text transform="translate(381.80,136.50) scale(1.06,1)" font-size="13" text-anchor="middle" fill="#000" stroke="#000" stroke-width="0.35">5</text>
<line x1="405.30" y1="118.80" x2="405.30" y2="123.30" stroke="#000" stroke-width="1.4" stroke-linecap="butt"/>
<text transform="translate(405.30,136.50) scale(1.06,1)" font-size="13" text-anchor="middle" fill="#000" stroke="#000" stroke-width="0.35">10</text>
<line x1="428.80" y1="118.80" x2="428.80" y2="123.30" stroke="#000" stroke-width="1.4" stroke-linecap="butt"/>
<text transform="translate(428.80,136.50) scale(1.06,1)" font-size="13" text-anchor="middle" fill="#000" stroke="#000" stroke-width="0.35">15</text>
<line x1="452.30" y1="118.80" x2="452.30" y2="123.30" stroke="#000" stroke-width="1.4" stroke-linecap="butt"/>
<text transform="translate(452.30,136.50) scale(1.06,1)" font-size="13" text-anchor="middle" fill="#000" stroke="#000" stroke-width="0.35">20</text>
<line x1="475.80" y1="118.80" x2="475.80" y2="123.30" stroke="#000" stroke-width="1.4" stroke-linecap="butt"/>
<text transform="translate(475.80,136.50) scale(1.06,1)" font-size="13" text-anchor="middle" fill="#000" stroke="#000" stroke-width="0.35">25</text>
<line x1="499.30" y1="118.80" x2="499.30" y2="123.30" stroke="#000" stroke-width="1.4" stroke-linecap="butt"/>
<text transform="translate(499.30,136.50) scale(1.06,1)" font-size="13" text-anchor="middle" fill="#000" stroke="#000" stroke-width="0.35">30</text>
<text transform="translate(428.60,156.00) scale(1.045,1)" font-size="13" text-anchor="middle" fill="#000" stroke="#000" stroke-width="0.35">Time after injury (min)</text>
<text transform="translate(318.00,69.50) rotate(-90) scale(1.03,1)" font-size="13" text-anchor="middle" fill="#000" stroke="#000" stroke-width="0.35">Thrombus size (mm²)</text>
<path d="M362.06,112.20 L366.83,101.20 L371.60,89.32 L376.37,81.40 L381.14,80.96 L385.91,81.40 L390.68,81.84 L395.45,82.94 L400.22,89.10 L404.99,74.80 L409.76,81.40 L414.54,74.80 L419.31,62.70 L424.08,48.40 L428.85,66.00 L433.62,55.00 L438.39,56.76 L443.16,57.13 L447.93,57.49 L452.70,57.86 L457.47,58.23 L462.24,58.59 L467.01,58.96 L471.78,59.33 L476.55,59.69 L481.32,60.06 L486.09,60.43 L490.86,60.79 L495.63,61.16" fill="none" stroke="#000" stroke-width="1.6" stroke-linejoin="miter"/>
<line x1="362.06" y1="110.00" x2="362.06" y2="114.40" stroke="#000" stroke-width="1.5" stroke-linecap="butt"/>
<line x1="358.76" y1="110.00" x2="365.36" y2="110.00" stroke="#000" stroke-width="1.5" stroke-linecap="butt"/>
<line x1="358.76" y1="114.40" x2="365.36" y2="114.40" stroke="#000" stroke-width="1.5" stroke-linecap="butt"/>
<line x1="366.83" y1="93.06" x2="366.83" y2="109.34" stroke="#000" stroke-width="1.5" stroke-linecap="butt"/>
<line x1="363.53" y1="93.06" x2="370.13" y2="93.06" stroke="#000" stroke-width="1.5" stroke-linecap="butt"/>
<line x1="363.53" y1="109.34" x2="370.13" y2="109.34" stroke="#000" stroke-width="1.5" stroke-linecap="butt"/>
<line x1="371.60" y1="77.00" x2="371.60" y2="101.64" stroke="#000" stroke-width="1.5" stroke-linecap="butt"/>
<line x1="368.30" y1="77.00" x2="374.90" y2="77.00" stroke="#000" stroke-width="1.5" stroke-linecap="butt"/>
<line x1="368.30" y1="101.64" x2="374.90" y2="101.64" stroke="#000" stroke-width="1.5" stroke-linecap="butt"/>
<line x1="376.37" y1="69.08" x2="376.37" y2="93.72" stroke="#000" stroke-width="1.5" stroke-linecap="butt"/>
<line x1="373.07" y1="69.08" x2="379.67" y2="69.08" stroke="#000" stroke-width="1.5" stroke-linecap="butt"/>
<line x1="373.07" y1="93.72" x2="379.67" y2="93.72" stroke="#000" stroke-width="1.5" stroke-linecap="butt"/>
<line x1="381.14" y1="69.08" x2="381.14" y2="92.84" stroke="#000" stroke-width="1.5" stroke-linecap="butt"/>
<line x1="377.84" y1="69.08" x2="384.44" y2="69.08" stroke="#000" stroke-width="1.5" stroke-linecap="butt"/>
<line x1="377.84" y1="92.84" x2="384.44" y2="92.84" stroke="#000" stroke-width="1.5" stroke-linecap="butt"/>
<line x1="385.91" y1="69.08" x2="385.91" y2="93.72" stroke="#000" stroke-width="1.5" stroke-linecap="butt"/>
<line x1="382.61" y1="69.08" x2="389.21" y2="69.08" stroke="#000" stroke-width="1.5" stroke-linecap="butt"/>
<line x1="382.61" y1="93.72" x2="389.21" y2="93.72" stroke="#000" stroke-width="1.5" stroke-linecap="butt"/>
<line x1="390.68" y1="69.30" x2="390.68" y2="94.38" stroke="#000" stroke-width="1.5" stroke-linecap="butt"/>
<line x1="387.38" y1="69.30" x2="393.98" y2="69.30" stroke="#000" stroke-width="1.5" stroke-linecap="butt"/>
<line x1="387.38" y1="94.38" x2="393.98" y2="94.38" stroke="#000" stroke-width="1.5" stroke-linecap="butt"/>
<line x1="395.45" y1="71.94" x2="395.45" y2="93.94" stroke="#000" stroke-width="1.5" stroke-linecap="butt"/>
<line x1="392.15" y1="71.94" x2="398.75" y2="71.94" stroke="#000" stroke-width="1.5" stroke-linecap="butt"/>
<line x1="392.15" y1="93.94" x2="398.75" y2="93.94" stroke="#000" stroke-width="1.5" stroke-linecap="butt"/>
<line x1="400.22" y1="82.50" x2="400.22" y2="95.70" stroke="#000" stroke-width="1.5" stroke-linecap="butt"/>
<line x1="396.92" y1="82.50" x2="403.52" y2="82.50" stroke="#000" stroke-width="1.5" stroke-linecap="butt"/>
<line x1="396.92" y1="95.70" x2="403.52" y2="95.70" stroke="#000" stroke-width="1.5" stroke-linecap="butt"/>
<line x1="404.99" y1="60.50" x2="404.99" y2="89.10" stroke="#000" stroke-width="1.5" stroke-linecap="butt"/>
<line x1="401.69" y1="60.50" x2="408.29" y2="60.50" stroke="#000" stroke-width="1.5" stroke-linecap="butt"/>
<line x1="401.69" y1="89.10" x2="408.29" y2="89.10" stroke="#000" stroke-width="1.5" stroke-linecap="butt"/>
<line x1="409.76" y1="70.40" x2="409.76" y2="92.40" stroke="#000" stroke-width="1.5" stroke-linecap="butt"/>
<line x1="406.46" y1="70.40" x2="413.06" y2="70.40" stroke="#000" stroke-width="1.5" stroke-linecap="butt"/>
<line x1="406.46" y1="92.40" x2="413.06" y2="92.40" stroke="#000" stroke-width="1.5" stroke-linecap="butt"/>
<line x1="414.54" y1="63.80" x2="414.54" y2="85.80" stroke="#000" stroke-width="1.5" stroke-linecap="butt"/>
<line x1="411.24" y1="63.80" x2="417.84" y2="63.80" stroke="#000" stroke-width="1.5" stroke-linecap="butt"/>
<line x1="411.24" y1="85.80" x2="417.84" y2="85.80" stroke="#000" stroke-width="1.5" stroke-linecap="butt"/>
<line x1="419.31" y1="51.70" x2="419.31" y2="73.70" stroke="#000" stroke-width="1.5" stroke-linecap="butt"/>
<line x1="416.01" y1="51.70" x2="422.61" y2="51.70" stroke="#000" stroke-width="1.5" stroke-linecap="butt"/>
<line x1="416.01" y1="73.70" x2="422.61" y2="73.70" stroke="#000" stroke-width="1.5" stroke-linecap="butt"/>
<line x1="424.08" y1="37.40" x2="424.08" y2="59.40" stroke="#000" stroke-width="1.5" stroke-linecap="butt"/>
<line x1="420.78" y1="37.40" x2="427.38" y2="37.40" stroke="#000" stroke-width="1.5" stroke-linecap="butt"/>
<line x1="420.78" y1="59.40" x2="427.38" y2="59.40" stroke="#000" stroke-width="1.5" stroke-linecap="butt"/>
<line x1="428.85" y1="55.00" x2="428.85" y2="77.00" stroke="#000" stroke-width="1.5" stroke-linecap="butt"/>
<line x1="425.55" y1="55.00" x2="432.15" y2="55.00" stroke="#000" stroke-width="1.5" stroke-linecap="butt"/>
<line x1="425.55" y1="77.00" x2="432.15" y2="77.00" stroke="#000" stroke-width="1.5" stroke-linecap="butt"/>
<line x1="433.62" y1="44.00" x2="433.62" y2="66.00" stroke="#000" stroke-width="1.5" stroke-linecap="butt"/>
<line x1="430.32" y1="44.00" x2="436.92" y2="44.00" stroke="#000" stroke-width="1.5" stroke-linecap="butt"/>
<line x1="430.32" y1="66.00" x2="436.92" y2="66.00" stroke="#000" stroke-width="1.5" stroke-linecap="butt"/>
<line x1="438.39" y1="47.96" x2="438.39" y2="65.56" stroke="#000" stroke-width="1.5" stroke-linecap="butt"/>
<line x1="435.09" y1="47.96" x2="441.69" y2="47.96" stroke="#000" stroke-width="1.5" stroke-linecap="butt"/>
<line x1="435.09" y1="65.56" x2="441.69" y2="65.56" stroke="#000" stroke-width="1.5" stroke-linecap="butt"/>
<line x1="443.16" y1="48.33" x2="443.16" y2="65.93" stroke="#000" stroke-width="1.5" stroke-linecap="butt"/>
<line x1="439.86" y1="48.33" x2="446.46" y2="48.33" stroke="#000" stroke-width="1.5" stroke-linecap="butt"/>
<line x1="439.86" y1="65.93" x2="446.46" y2="65.93" stroke="#000" stroke-width="1.5" stroke-linecap="butt"/>
<line x1="447.93" y1="48.69" x2="447.93" y2="66.29" stroke="#000" stroke-width="1.5" stroke-linecap="butt"/>
<line x1="444.63" y1="48.69" x2="451.23" y2="48.69" stroke="#000" stroke-width="1.5" stroke-linecap="butt"/>
<line x1="444.63" y1="66.29" x2="451.23" y2="66.29" stroke="#000" stroke-width="1.5" stroke-linecap="butt"/>
<line x1="452.70" y1="49.06" x2="452.70" y2="66.66" stroke="#000" stroke-width="1.5" stroke-linecap="butt"/>
<line x1="449.40" y1="49.06" x2="456.00" y2="49.06" stroke="#000" stroke-width="1.5" stroke-linecap="butt"/>
<line x1="449.40" y1="66.66" x2="456.00" y2="66.66" stroke="#000" stroke-width="1.5" stroke-linecap="butt"/>
<line x1="457.47" y1="49.43" x2="457.47" y2="67.03" stroke="#000" stroke-width="1.5" stroke-linecap="butt"/>
<line x1="454.17" y1="49.43" x2="460.77" y2="49.43" stroke="#000" stroke-width="1.5" stroke-linecap="butt"/>
<line x1="454.17" y1="67.03" x2="460.77" y2="67.03" stroke="#000" stroke-width="1.5" stroke-linecap="butt"/>
<line x1="462.24" y1="49.79" x2="462.24" y2="67.39" stroke="#000" stroke-width="1.5" stroke-linecap="butt"/>
<line x1="458.94" y1="49.79" x2="465.54" y2="49.79" stroke="#000" stroke-width="1.5" stroke-linecap="butt"/>
<line x1="458.94" y1="67.39" x2="465.54" y2="67.39" stroke="#000" stroke-width="1.5" stroke-linecap="butt"/>
<line x1="467.01" y1="50.16" x2="467.01" y2="67.76" stroke="#000" stroke-width="1.5" stroke-linecap="butt"/>
<line x1="463.71" y1="50.16" x2="470.31" y2="50.16" stroke="#000" stroke-width="1.5" stroke-linecap="butt"/>
<line x1="463.71" y1="67.76" x2="470.31" y2="67.76" stroke="#000" stroke-width="1.5" stroke-linecap="butt"/>
<line x1="471.78" y1="50.53" x2="471.78" y2="68.13" stroke="#000" stroke-width="1.5" stroke-linecap="butt"/>
<line x1="468.48" y1="50.53" x2="475.08" y2="50.53" stroke="#000" stroke-width="1.5" stroke-linecap="butt"/>
<line x1="468.48" y1="68.13" x2="475.08" y2="68.13" stroke="#000" stroke-width="1.5" stroke-linecap="butt"/>
<line x1="476.55" y1="50.89" x2="476.55" y2="68.49" stroke="#000" stroke-width="1.5" stroke-linecap="butt"/>
<line x1="473.25" y1="50.89" x2="479.85" y2="50.89" stroke="#000" stroke-width="1.5" stroke-linecap="butt"/>
<line x1="473.25" y1="68.49" x2="479.85" y2="68.49" stroke="#000" stroke-width="1.5" stroke-linecap="butt"/>
<line x1="481.32" y1="51.26" x2="481.32" y2="68.86" stroke="#000" stroke-width="1.5" stroke-linecap="butt"/>
<line x1="478.02" y1="51.26" x2="484.62" y2="51.26" stroke="#000" stroke-width="1.5" stroke-linecap="butt"/>
<line x1="478.02" y1="68.86" x2="484.62" y2="68.86" stroke="#000" stroke-width="1.5" stroke-linecap="butt"/>
<line x1="486.09" y1="51.63" x2="486.09" y2="69.23" stroke="#000" stroke-width="1.5" stroke-linecap="butt"/>
<line x1="482.79" y1="51.63" x2="489.39" y2="51.63" stroke="#000" stroke-width="1.5" stroke-linecap="butt"/>
<line x1="482.79" y1="69.23" x2="489.39" y2="69.23" stroke="#000" stroke-width="1.5" stroke-linecap="butt"/>
<line x1="490.86" y1="51.99" x2="490.86" y2="69.59" stroke="#000" stroke-width="1.5" stroke-linecap="butt"/>
<line x1="487.56" y1="51.99" x2="494.16" y2="51.99" stroke="#000" stroke-width="1.5" stroke-linecap="butt"/>
<line x1="487.56" y1="69.59" x2="494.16" y2="69.59" stroke="#000" stroke-width="1.5" stroke-linecap="butt"/>
<line x1="495.63" y1="52.36" x2="495.63" y2="69.96" stroke="#000" stroke-width="1.5" stroke-linecap="butt"/>
<line x1="492.33" y1="52.36" x2="498.93" y2="52.36" stroke="#000" stroke-width="1.5" stroke-linecap="butt"/>
<line x1="492.33" y1="69.96" x2="498.93" y2="69.96" stroke="#000" stroke-width="1.5" stroke-linecap="butt"/>
<rect x="359.31" y="109.45" width="5.5" height="5.5" fill="#fff" stroke="#000" stroke-width="1.5"/>
<rect x="364.08" y="98.45" width="5.5" height="5.5" fill="#fff" stroke="#000" stroke-width="1.5"/>
<rect x="368.85" y="86.57" width="5.5" height="5.5" fill="#fff" stroke="#000" stroke-width="1.5"/>
<rect x="373.62" y="78.65" width="5.5" height="5.5" fill="#fff" stroke="#000" stroke-width="1.5"/>
<rect x="378.39" y="78.21" width="5.5" height="5.5" fill="#fff" stroke="#000" stroke-width="1.5"/>
<rect x="383.16" y="78.65" width="5.5" height="5.5" fill="#fff" stroke="#000" stroke-width="1.5"/>
<rect x="387.93" y="79.09" width="5.5" height="5.5" fill="#fff" stroke="#000" stroke-width="1.5"/>
<rect x="392.70" y="80.19" width="5.5" height="5.5" fill="#fff" stroke="#000" stroke-width="1.5"/>
<rect x="397.47" y="86.35" width="5.5" height="5.5" fill="#fff" stroke="#000" stroke-width="1.5"/>
<rect x="402.24" y="72.05" width="5.5" height="5.5" fill="#fff" stroke="#000" stroke-width="1.5"/>
<rect x="407.01" y="78.65" width="5.5" height="5.5" fill="#fff" stroke="#000" stroke-width="1.5"/>
<rect x="411.79" y="72.05" width="5.5" height="5.5" fill="#fff" stroke="#000" stroke-width="1.5"/>
<rect x="416.56" y="59.95" width="5.5" height="5.5" fill="#fff" stroke="#000" stroke-width="1.5"/>
<rect x="421.33" y="45.65" width="5.5" height="5.5" fill="#fff" stroke="#000" stroke-width="1.5"/>
<rect x="426.10" y="63.25" width="5.5" height="5.5" fill="#fff" stroke="#000" stroke-width="1.5"/>
<rect x="430.87" y="52.25" width="5.5" height="5.5" fill="#fff" stroke="#000" stroke-width="1.5"/>
<rect x="435.64" y="54.01" width="5.5" height="5.5" fill="#fff" stroke="#000" stroke-width="1.5"/>
<rect x="440.41" y="54.38" width="5.5" height="5.5" fill="#fff" stroke="#000" stroke-width="1.5"/>
<rect x="445.18" y="54.74" width="5.5" height="5.5" fill="#fff" stroke="#000" stroke-width="1.5"/>
<rect x="449.95" y="55.11" width="5.5" height="5.5" fill="#fff" stroke="#000" stroke-width="1.5"/>
<rect x="454.72" y="55.48" width="5.5" height="5.5" fill="#fff" stroke="#000" stroke-width="1.5"/>
<rect x="459.49" y="55.84" width="5.5" height="5.5" fill="#fff" stroke="#000" stroke-width="1.5"/>
<rect x="464.26" y="56.21" width="5.5" height="5.5" fill="#fff" stroke="#000" stroke-width="1.5"/>
<rect x="469.03" y="56.58" width="5.5" height="5.5" fill="#fff" stroke="#000" stroke-width="1.5"/>
<rect x="473.80" y="56.94" width="5.5" height="5.5" fill="#fff" stroke="#000" stroke-width="1.5"/>
<rect x="478.57" y="57.31" width="5.5" height="5.5" fill="#fff" stroke="#000" stroke-width="1.5"/>
<rect x="483.34" y="57.68" width="5.5" height="5.5" fill="#fff" stroke="#000" stroke-width="1.5"/>
<rect x="488.11" y="58.04" width="5.5" height="5.5" fill="#fff" stroke="#000" stroke-width="1.5"/>
<rect x="492.88" y="58.41" width="5.5" height="5.5" fill="#fff" stroke="#000" stroke-width="1.5"/>
<path d="M362.06,113.30 L366.83,102.30 L371.60,100.10 L376.37,99.00 L381.14,96.80 L385.91,95.70 L390.68,92.40 L395.45,99.00 L400.22,74.80 L404.99,67.10 L409.76,60.50 L414.54,61.60 L419.31,50.60 L424.08,49.50 L428.85,52.80 L433.62,72.60 L438.39,59.40 L443.16,52.93 L447.93,53.06 L452.70,53.18 L457.47,53.31 L462.24,53.44 L467.01,53.57 L471.78,53.70 L476.55,53.83 L481.32,53.96 L486.09,54.08 L490.86,54.21 L495.63,54.34" fill="none" stroke="#000" stroke-width="1.6" stroke-linejoin="miter"/>
<line x1="362.06" y1="111.10" x2="362.06" y2="115.50" stroke="#000" stroke-width="1.5" stroke-linecap="butt"/>
<line x1="358.76" y1="111.10" x2="365.36" y2="111.10" stroke="#000" stroke-width="1.5" stroke-linecap="butt"/>
<line x1="358.76" y1="115.50" x2="365.36" y2="115.50" stroke="#000" stroke-width="1.5" stroke-linecap="butt"/>
<line x1="366.83" y1="95.70" x2="366.83" y2="108.90" stroke="#000" stroke-width="1.5" stroke-linecap="butt"/>
<line x1="363.53" y1="95.70" x2="370.13" y2="95.70" stroke="#000" stroke-width="1.5" stroke-linecap="butt"/>
<line x1="363.53" y1="108.90" x2="370.13" y2="108.90" stroke="#000" stroke-width="1.5" stroke-linecap="butt"/>
<line x1="371.60" y1="90.86" x2="371.60" y2="109.34" stroke="#000" stroke-width="1.5" stroke-linecap="butt"/>
<line x1="368.30" y1="90.86" x2="374.90" y2="90.86" stroke="#000" stroke-width="1.5" stroke-linecap="butt"/>
<line x1="368.30" y1="109.34" x2="374.90" y2="109.34" stroke="#000" stroke-width="1.5" stroke-linecap="butt"/>
<line x1="376.37" y1="88.66" x2="376.37" y2="109.34" stroke="#000" stroke-width="1.5" stroke-linecap="butt"/>
<line x1="373.07" y1="88.66" x2="379.67" y2="88.66" stroke="#000" stroke-width="1.5" stroke-linecap="butt"/>
<line x1="373.07" y1="109.34" x2="379.67" y2="109.34" stroke="#000" stroke-width="1.5" stroke-linecap="butt"/>
<line x1="381.14" y1="85.80" x2="381.14" y2="107.80" stroke="#000" stroke-width="1.5" stroke-linecap="butt"/>
<line x1="377.84" y1="85.80" x2="384.44" y2="85.80" stroke="#000" stroke-width="1.5" stroke-linecap="butt"/>
<line x1="377.84" y1="107.80" x2="384.44" y2="107.80" stroke="#000" stroke-width="1.5" stroke-linecap="butt"/>
<line x1="385.91" y1="84.26" x2="385.91" y2="107.14" stroke="#000" stroke-width="1.5" stroke-linecap="butt"/>
<line x1="382.61" y1="84.26" x2="389.21" y2="84.26" stroke="#000" stroke-width="1.5" stroke-linecap="butt"/>
<line x1="382.61" y1="107.14" x2="389.21" y2="107.14" stroke="#000" stroke-width="1.5" stroke-linecap="butt"/>
<line x1="390.68" y1="81.40" x2="390.68" y2="103.40" stroke="#000" stroke-width="1.5" stroke-linecap="butt"/>
<line x1="387.38" y1="81.40" x2="393.98" y2="81.40" stroke="#000" stroke-width="1.5" stroke-linecap="butt"/>
<line x1="387.38" y1="103.40" x2="393.98" y2="103.40" stroke="#000" stroke-width="1.5" stroke-linecap="butt"/>
<line x1="395.45" y1="86.90" x2="395.45" y2="111.10" stroke="#000" stroke-width="1.5" stroke-linecap="butt"/>
<line x1="392.15" y1="86.90" x2="398.75" y2="86.90" stroke="#000" stroke-width="1.5" stroke-linecap="butt"/>
<line x1="392.15" y1="111.10" x2="398.75" y2="111.10" stroke="#000" stroke-width="1.5" stroke-linecap="butt"/>
<line x1="400.22" y1="60.50" x2="400.22" y2="89.10" stroke="#000" stroke-width="1.5" stroke-linecap="butt"/>
<line x1="396.92" y1="60.50" x2="403.52" y2="60.50" stroke="#000" stroke-width="1.5" stroke-linecap="butt"/>
<line x1="396.92" y1="89.10" x2="403.52" y2="89.10" stroke="#000" stroke-width="1.5" stroke-linecap="butt"/>
<line x1="404.99" y1="53.90" x2="404.99" y2="80.30" stroke="#000" stroke-width="1.5" stroke-linecap="butt"/>
<line x1="401.69" y1="53.90" x2="408.29" y2="53.90" stroke="#000" stroke-width="1.5" stroke-linecap="butt"/>
<line x1="401.69" y1="80.30" x2="408.29" y2="80.30" stroke="#000" stroke-width="1.5" stroke-linecap="butt"/>
<line x1="409.76" y1="46.86" x2="409.76" y2="74.14" stroke="#000" stroke-width="1.5" stroke-linecap="butt"/>
<line x1="406.46" y1="46.86" x2="413.06" y2="46.86" stroke="#000" stroke-width="1.5" stroke-linecap="butt"/>
<line x1="406.46" y1="74.14" x2="413.06" y2="74.14" stroke="#000" stroke-width="1.5" stroke-linecap="butt"/>
<line x1="414.54" y1="50.60" x2="414.54" y2="72.60" stroke="#000" stroke-width="1.5" stroke-linecap="butt"/>
<line x1="411.24" y1="50.60" x2="417.84" y2="50.60" stroke="#000" stroke-width="1.5" stroke-linecap="butt"/>
<line x1="411.24" y1="72.60" x2="417.84" y2="72.60" stroke="#000" stroke-width="1.5" stroke-linecap="butt"/>
<line x1="419.31" y1="37.84" x2="419.31" y2="63.36" stroke="#000" stroke-width="1.5" stroke-linecap="butt"/>
<line x1="416.01" y1="37.84" x2="422.61" y2="37.84" stroke="#000" stroke-width="1.5" stroke-linecap="butt"/>
<line x1="416.01" y1="63.36" x2="422.61" y2="63.36" stroke="#000" stroke-width="1.5" stroke-linecap="butt"/>
<line x1="424.08" y1="36.96" x2="424.08" y2="62.04" stroke="#000" stroke-width="1.5" stroke-linecap="butt"/>
<line x1="420.78" y1="36.96" x2="427.38" y2="36.96" stroke="#000" stroke-width="1.5" stroke-linecap="butt"/>
<line x1="420.78" y1="62.04" x2="427.38" y2="62.04" stroke="#000" stroke-width="1.5" stroke-linecap="butt"/>
<line x1="428.85" y1="41.80" x2="428.85" y2="63.80" stroke="#000" stroke-width="1.5" stroke-linecap="butt"/>
<line x1="425.55" y1="41.80" x2="432.15" y2="41.80" stroke="#000" stroke-width="1.5" stroke-linecap="butt"/>
<line x1="425.55" y1="63.80" x2="432.15" y2="63.80" stroke="#000" stroke-width="1.5" stroke-linecap="butt"/>
<line x1="433.62" y1="55.00" x2="433.62" y2="90.20" stroke="#000" stroke-width="1.5" stroke-linecap="butt"/>
<line x1="430.32" y1="55.00" x2="436.92" y2="55.00" stroke="#000" stroke-width="1.5" stroke-linecap="butt"/>
<line x1="430.32" y1="90.20" x2="436.92" y2="90.20" stroke="#000" stroke-width="1.5" stroke-linecap="butt"/>
<line x1="438.39" y1="47.96" x2="438.39" y2="70.84" stroke="#000" stroke-width="1.5" stroke-linecap="butt"/>
<line x1="435.09" y1="47.96" x2="441.69" y2="47.96" stroke="#000" stroke-width="1.5" stroke-linecap="butt"/>
<line x1="435.09" y1="70.84" x2="441.69" y2="70.84" stroke="#000" stroke-width="1.5" stroke-linecap="butt"/>
<line x1="443.16" y1="41.49" x2="443.16" y2="64.37" stroke="#000" stroke-width="1.5" stroke-linecap="butt"/>
<line x1="439.86" y1="41.49" x2="446.46" y2="41.49" stroke="#000" stroke-width="1.5" stroke-linecap="butt"/>
<line x1="439.86" y1="64.37" x2="446.46" y2="64.37" stroke="#000" stroke-width="1.5" stroke-linecap="butt"/>
<line x1="447.93" y1="41.62" x2="447.93" y2="64.50" stroke="#000" stroke-width="1.5" stroke-linecap="butt"/>
<line x1="444.63" y1="41.62" x2="451.23" y2="41.62" stroke="#000" stroke-width="1.5" stroke-linecap="butt"/>
<line x1="444.63" y1="64.50" x2="451.23" y2="64.50" stroke="#000" stroke-width="1.5" stroke-linecap="butt"/>
<line x1="452.70" y1="41.74" x2="452.70" y2="64.62" stroke="#000" stroke-width="1.5" stroke-linecap="butt"/>
<line x1="449.40" y1="41.74" x2="456.00" y2="41.74" stroke="#000" stroke-width="1.5" stroke-linecap="butt"/>
<line x1="449.40" y1="64.62" x2="456.00" y2="64.62" stroke="#000" stroke-width="1.5" stroke-linecap="butt"/>
<line x1="457.47" y1="41.87" x2="457.47" y2="64.75" stroke="#000" stroke-width="1.5" stroke-linecap="butt"/>
<line x1="454.17" y1="41.87" x2="460.77" y2="41.87" stroke="#000" stroke-width="1.5" stroke-linecap="butt"/>
<line x1="454.17" y1="64.75" x2="460.77" y2="64.75" stroke="#000" stroke-width="1.5" stroke-linecap="butt"/>
<line x1="462.24" y1="42.00" x2="462.24" y2="64.88" stroke="#000" stroke-width="1.5" stroke-linecap="butt"/>
<line x1="458.94" y1="42.00" x2="465.54" y2="42.00" stroke="#000" stroke-width="1.5" stroke-linecap="butt"/>
<line x1="458.94" y1="64.88" x2="465.54" y2="64.88" stroke="#000" stroke-width="1.5" stroke-linecap="butt"/>
<line x1="467.01" y1="42.13" x2="467.01" y2="65.01" stroke="#000" stroke-width="1.5" stroke-linecap="butt"/>
<line x1="463.71" y1="42.13" x2="470.31" y2="42.13" stroke="#000" stroke-width="1.5" stroke-linecap="butt"/>
<line x1="463.71" y1="65.01" x2="470.31" y2="65.01" stroke="#000" stroke-width="1.5" stroke-linecap="butt"/>
<line x1="471.78" y1="42.26" x2="471.78" y2="65.14" stroke="#000" stroke-width="1.5" stroke-linecap="butt"/>
<line x1="468.48" y1="42.26" x2="475.08" y2="42.26" stroke="#000" stroke-width="1.5" stroke-linecap="butt"/>
<line x1="468.48" y1="65.14" x2="475.08" y2="65.14" stroke="#000" stroke-width="1.5" stroke-linecap="butt"/>
<line x1="476.55" y1="42.39" x2="476.55" y2="65.27" stroke="#000" stroke-width="1.5" stroke-linecap="butt"/>
<line x1="473.25" y1="42.39" x2="479.85" y2="42.39" stroke="#000" stroke-width="1.5" stroke-linecap="butt"/>
<line x1="473.25" y1="65.27" x2="479.85" y2="65.27" stroke="#000" stroke-width="1.5" stroke-linecap="butt"/>
<line x1="481.32" y1="42.52" x2="481.32" y2="65.40" stroke="#000" stroke-width="1.5" stroke-linecap="butt"/>
<line x1="478.02" y1="42.52" x2="484.62" y2="42.52" stroke="#000" stroke-width="1.5" stroke-linecap="butt"/>
<line x1="478.02" y1="65.40" x2="484.62" y2="65.40" stroke="#000" stroke-width="1.5" stroke-linecap="butt"/>
<line x1="486.09" y1="42.64" x2="486.09" y2="65.52" stroke="#000" stroke-width="1.5" stroke-linecap="butt"/>
<line x1="482.79" y1="42.64" x2="489.39" y2="42.64" stroke="#000" stroke-width="1.5" stroke-linecap="butt"/>
<line x1="482.79" y1="65.52" x2="489.39" y2="65.52" stroke="#000" stroke-width="1.5" stroke-linecap="butt"/>
<line x1="490.86" y1="42.77" x2="490.86" y2="65.65" stroke="#000" stroke-width="1.5" stroke-linecap="butt"/>
<line x1="487.56" y1="42.77" x2="494.16" y2="42.77" stroke="#000" stroke-width="1.5" stroke-linecap="butt"/>
<line x1="487.56" y1="65.65" x2="494.16" y2="65.65" stroke="#000" stroke-width="1.5" stroke-linecap="butt"/>
<line x1="495.63" y1="42.90" x2="495.63" y2="65.78" stroke="#000" stroke-width="1.5" stroke-linecap="butt"/>
<line x1="492.33" y1="42.90" x2="498.93" y2="42.90" stroke="#000" stroke-width="1.5" stroke-linecap="butt"/>
<line x1="492.33" y1="65.78" x2="498.93" y2="65.78" stroke="#000" stroke-width="1.5" stroke-linecap="butt"/>
<rect x="359.31" y="110.55" width="5.5" height="5.5" fill="#000" stroke="#000" stroke-width="1.5"/>
<rect x="364.08" y="99.55" width="5.5" height="5.5" fill="#000" stroke="#000" stroke-width="1.5"/>
<rect x="368.85" y="97.35" width="5.5" height="5.5" fill="#000" stroke="#000" stroke-width="1.5"/>
<rect x="373.62" y="96.25" width="5.5" height="5.5" fill="#000" stroke="#000" stroke-width="1.5"/>
<rect x="378.39" y="94.05" width="5.5" height="5.5" fill="#000" stroke="#000" stroke-width="1.5"/>
<rect x="383.16" y="92.95" width="5.5" height="5.5" fill="#000" stroke="#000" stroke-width="1.5"/>
<rect x="387.93" y="89.65" width="5.5" height="5.5" fill="#000" stroke="#000" stroke-width="1.5"/>
<rect x="392.70" y="96.25" width="5.5" height="5.5" fill="#000" stroke="#000" stroke-width="1.5"/>
<rect x="397.47" y="72.05" width="5.5" height="5.5" fill="#000" stroke="#000" stroke-width="1.5"/>
<rect x="402.24" y="64.35" width="5.5" height="5.5" fill="#000" stroke="#000" stroke-width="1.5"/>
<rect x="407.01" y="57.75" width="5.5" height="5.5" fill="#000" stroke="#000" stroke-width="1.5"/>
<rect x="411.79" y="58.85" width="5.5" height="5.5" fill="#000" stroke="#000" stroke-width="1.5"/>
<rect x="416.56" y="47.85" width="5.5" height="5.5" fill="#000" stroke="#000" stroke-width="1.5"/>
<rect x="421.33" y="46.75" width="5.5" height="5.5" fill="#000" stroke="#000" stroke-width="1.5"/>
<rect x="426.10" y="50.05" width="5.5" height="5.5" fill="#000" stroke="#000" stroke-width="1.5"/>
<rect x="430.87" y="69.85" width="5.5" height="5.5" fill="#000" stroke="#000" stroke-width="1.5"/>
<rect x="435.64" y="56.65" width="5.5" height="5.5" fill="#000" stroke="#000" stroke-width="1.5"/>
<rect x="440.41" y="50.18" width="5.5" height="5.5" fill="#000" stroke="#000" stroke-width="1.5"/>
<rect x="445.18" y="50.31" width="5.5" height="5.5" fill="#000" stroke="#000" stroke-width="1.5"/>
<rect x="449.95" y="50.43" width="5.5" height="5.5" fill="#000" stroke="#000" stroke-width="1.5"/>
<rect x="454.72" y="50.56" width="5.5" height="5.5" fill="#000" stroke="#000" stroke-width="1.5"/>
<rect x="459.49" y="50.69" width="5.5" height="5.5" fill="#000" stroke="#000" stroke-width="1.5"/>
<rect x="464.26" y="50.82" width="5.5" height="5.5" fill="#000" stroke="#000" stroke-width="1.5"/>
<rect x="469.03" y="50.95" width="5.5" height="5.5" fill="#000" stroke="#000" stroke-width="1.5"/>
<rect x="473.80" y="51.08" width="5.5" height="5.5" fill="#000" stroke="#000" stroke-width="1.5"/>
<rect x="478.57" y="51.21" width="5.5" height="5.5" fill="#000" stroke="#000" stroke-width="1.5"/>
<rect x="483.34" y="51.33" width="5.5" height="5.5" fill="#000" stroke="#000" stroke-width="1.5"/>
<rect x="488.11" y="51.46" width="5.5" height="5.5" fill="#000" stroke="#000" stroke-width="1.5"/>
<rect x="492.88" y="51.59" width="5.5" height="5.5" fill="#000" stroke="#000" stroke-width="1.5"/>
<line x1="442.00" y1="86.70" x2="461.00" y2="86.70" stroke="#000" stroke-width="1.6" stroke-linecap="butt"/>
<rect x="448.70" y="83.90" width="5.6" height="5.6" fill="#fff" stroke="#000" stroke-width="1.5"/>
<text transform="translate(471.00,91.20) scale(1.06,1)" font-size="13" text-anchor="start" fill="#000" stroke="#000" stroke-width="0.35">CTL</text>
<line x1="442.00" y1="105.50" x2="461.00" y2="105.50" stroke="#000" stroke-width="1.6" stroke-linecap="butt"/>
<rect x="448.70" y="102.70" width="5.6" height="5.6" fill="#000" stroke="#000" stroke-width="1.5"/>
<text transform="translate(471.00,110.30) scale(1.06,1)" font-size="13" text-anchor="start" fill="#000" stroke="#000" stroke-width="0.35">A70</text>
<line x1="358.30" y1="178.50" x2="358.30" y2="279.65" stroke="#000" stroke-width="1.5" stroke-linecap="butt"/>
<line x1="357.55" y1="278.90" x2="499.50" y2="278.90" stroke="#000" stroke-width="1.5" stroke-linecap="butt"/>
<line x1="353.80" y1="278.90" x2="358.30" y2="278.90" stroke="#000" stroke-width="1.4" stroke-linecap="butt"/>
<text transform="translate(352.00,283.50) scale(1.06,1)" font-size="13" text-anchor="end" fill="#000" stroke="#000" stroke-width="0.35">0.0</text>
<line x1="353.80" y1="234.50" x2="358.30" y2="234.50" stroke="#000" stroke-width="1.4" stroke-linecap="butt"/>
<text transform="translate(352.00,239.10) scale(1.06,1)" font-size="13" text-anchor="end" fill="#000" stroke="#000" stroke-width="0.35">0.2</text>
<line x1="353.80" y1="190.10" x2="358.30" y2="190.10" stroke="#000" stroke-width="1.4" stroke-linecap="butt"/>
<text transform="translate(352.00,194.70) scale(1.06,1)" font-size="13" text-anchor="end" fill="#000" stroke="#000" stroke-width="0.35">0.4</text>
<line x1="358.30" y1="278.90" x2="358.30" y2="283.40" stroke="#000" stroke-width="1.4" stroke-linecap="butt"/>
<text transform="translate(358.30,296.60) scale(1.06,1)" font-size="13" text-anchor="middle" fill="#000" stroke="#000" stroke-width="0.35">0</text>
<line x1="380.30" y1="278.90" x2="380.30" y2="283.40" stroke="#000" stroke-width="1.4" stroke-linecap="butt"/>
<text transform="translate(380.30,296.60) scale(1.06,1)" font-size="13" text-anchor="middle" fill="#000" stroke="#000" stroke-width="0.35">5</text>
<line x1="402.30" y1="278.90" x2="402.30" y2="283.40" stroke="#000" stroke-width="1.4" stroke-linecap="butt"/>
<text transform="translate(402.30,296.60) scale(1.06,1)" font-size="13" text-anchor="middle" fill="#000" stroke="#000" stroke-width="0.35">10</text>
<line x1="424.30" y1="278.90" x2="424.30" y2="283.40" stroke="#000" stroke-width="1.4" stroke-linecap="butt"/>
<text transform="translate(424.30,296.60) scale(1.06,1)" font-size="13" text-anchor="middle" fill="#000" stroke="#000" stroke-width="0.35">15</text>
<line x1="446.30" y1="278.90" x2="446.30" y2="283.40" stroke="#000" stroke-width="1.4" stroke-linecap="butt"/>
<text transform="translate(446.30,296.60) scale(1.06,1)" font-size="13" text-anchor="middle" fill="#000" stroke="#000" stroke-width="0.35">20</text>
<line x1="468.30" y1="278.90" x2="468.30" y2="283.40" stroke="#000" stroke-width="1.4" stroke-linecap="butt"/>
<text transform="translate(468.30,296.60) scale(1.06,1)" font-size="13" text-anchor="middle" fill="#000" stroke="#000" stroke-width="0.35">25</text>
<line x1="490.30" y1="278.90" x2="490.30" y2="283.40" stroke="#000" stroke-width="1.4" stroke-linecap="butt"/>
<text transform="translate(490.30,296.60) scale(1.06,1)" font-size="13" text-anchor="middle" fill="#000" stroke="#000" stroke-width="0.35">30</text>
<text transform="translate(428.60,316.00) scale(1.045,1)" font-size="13" text-anchor="middle" fill="#000" stroke="#000" stroke-width="0.35">Time after injury (min)</text>
<text transform="translate(318.00,229.00) rotate(-90) scale(1.03,1)" font-size="13" text-anchor="middle" fill="#000" stroke="#000" stroke-width="0.35">Thrombus size (mm²)</text>
<path d="M360.06,272.24 L364.46,258.92 L369.30,246.71 L373.26,252.26 L377.66,245.60 L384.70,238.94 L386.90,201.20 L393.50,204.53 L395.70,193.43 L400.10,194.54 L408.90,193.43 L411.10,197.87 L417.70,196.76 L422.10,196.76 L426.94,214.52 L433.10,214.52 L437.50,215.63 L448.50,216.74 L455.10,200.09 L460.82,201.20 L466.10,210.08 L470.50,213.41 L474.90,214.52 L479.30,214.52 L482.82,214.52 L487.22,206.75" fill="none" stroke="#000" stroke-width="1.6" stroke-linejoin="miter"/>
<line x1="360.06" y1="270.02" x2="360.06" y2="274.46" stroke="#000" stroke-width="1.5" stroke-linecap="butt"/>
<line x1="357.16" y1="270.02" x2="362.96" y2="270.02" stroke="#000" stroke-width="1.5" stroke-linecap="butt"/>
<line x1="357.16" y1="274.46" x2="362.96" y2="274.46" stroke="#000" stroke-width="1.5" stroke-linecap="butt"/>
<line x1="364.46" y1="250.04" x2="364.46" y2="267.80" stroke="#000" stroke-width="1.5" stroke-linecap="butt"/>
<line x1="361.56" y1="250.04" x2="367.36" y2="250.04" stroke="#000" stroke-width="1.5" stroke-linecap="butt"/>
<line x1="361.56" y1="267.80" x2="367.36" y2="267.80" stroke="#000" stroke-width="1.5" stroke-linecap="butt"/>
<line x1="369.30" y1="230.06" x2="369.30" y2="263.36" stroke="#000" stroke-width="1.5" stroke-linecap="butt"/>
<line x1="366.40" y1="230.06" x2="372.20" y2="230.06" stroke="#000" stroke-width="1.5" stroke-linecap="butt"/>
<line x1="366.40" y1="263.36" x2="372.20" y2="263.36" stroke="#000" stroke-width="1.5" stroke-linecap="butt"/>
<line x1="373.26" y1="238.94" x2="373.26" y2="265.58" stroke="#000" stroke-width="1.5" stroke-linecap="butt"/>
<line x1="370.36" y1="238.94" x2="376.16" y2="238.94" stroke="#000" stroke-width="1.5" stroke-linecap="butt"/>
<line x1="370.36" y1="265.58" x2="376.16" y2="265.58" stroke="#000" stroke-width="1.5" stroke-linecap="butt"/>
<line x1="377.66" y1="228.95" x2="377.66" y2="262.25" stroke="#000" stroke-width="1.5" stroke-linecap="butt"/>
<line x1="374.76" y1="228.95" x2="380.56" y2="228.95" stroke="#000" stroke-width="1.5" stroke-linecap="butt"/>
<line x1="374.76" y1="262.25" x2="380.56" y2="262.25" stroke="#000" stroke-width="1.5" stroke-linecap="butt"/>
<line x1="384.70" y1="221.18" x2="384.70" y2="256.70" stroke="#000" stroke-width="1.5" stroke-linecap="butt"/>
<line x1="381.80" y1="221.18" x2="387.60" y2="221.18" stroke="#000" stroke-width="1.5" stroke-linecap="butt"/>
<line x1="381.80" y1="256.70" x2="387.60" y2="256.70" stroke="#000" stroke-width="1.5" stroke-linecap="butt"/>
<line x1="386.90" y1="185.66" x2="386.90" y2="216.74" stroke="#000" stroke-width="1.5" stroke-linecap="butt"/>
<line x1="384.00" y1="185.66" x2="389.80" y2="185.66" stroke="#000" stroke-width="1.5" stroke-linecap="butt"/>
<line x1="384.00" y1="216.74" x2="389.80" y2="216.74" stroke="#000" stroke-width="1.5" stroke-linecap="butt"/>
<line x1="393.50" y1="191.21" x2="393.50" y2="217.85" stroke="#000" stroke-width="1.5" stroke-linecap="butt"/>
<line x1="390.60" y1="191.21" x2="396.40" y2="191.21" stroke="#000" stroke-width="1.5" stroke-linecap="butt"/>
<line x1="390.60" y1="217.85" x2="396.40" y2="217.85" stroke="#000" stroke-width="1.5" stroke-linecap="butt"/>
<line x1="395.70" y1="185.66" x2="395.70" y2="201.20" stroke="#000" stroke-width="1.5" stroke-linecap="butt"/>
<line x1="392.80" y1="185.66" x2="398.60" y2="185.66" stroke="#000" stroke-width="1.5" stroke-linecap="butt"/>
<line x1="392.80" y1="201.20" x2="398.60" y2="201.20" stroke="#000" stroke-width="1.5" stroke-linecap="butt"/>
<line x1="400.10" y1="185.66" x2="400.10" y2="203.42" stroke="#000" stroke-width="1.5" stroke-linecap="butt"/>
<line x1="397.20" y1="185.66" x2="403.00" y2="185.66" stroke="#000" stroke-width="1.5" stroke-linecap="butt"/>
<line x1="397.20" y1="203.42" x2="403.00" y2="203.42" stroke="#000" stroke-width="1.5" stroke-linecap="butt"/>
<line x1="408.90" y1="183.44" x2="408.90" y2="203.42" stroke="#000" stroke-width="1.5" stroke-linecap="butt"/>
<line x1="406.00" y1="183.44" x2="411.80" y2="183.44" stroke="#000" stroke-width="1.5" stroke-linecap="butt"/>
<line x1="406.00" y1="203.42" x2="411.80" y2="203.42" stroke="#000" stroke-width="1.5" stroke-linecap="butt"/>
<line x1="411.10" y1="187.88" x2="411.10" y2="207.86" stroke="#000" stroke-width="1.5" stroke-linecap="butt"/>
<line x1="408.20" y1="187.88" x2="414.00" y2="187.88" stroke="#000" stroke-width="1.5" stroke-linecap="butt"/>
<line x1="408.20" y1="207.86" x2="414.00" y2="207.86" stroke="#000" stroke-width="1.5" stroke-linecap="butt"/>
<line x1="417.70" y1="187.88" x2="417.70" y2="205.64" stroke="#000" stroke-width="1.5" stroke-linecap="butt"/>
<line x1="414.80" y1="187.88" x2="420.60" y2="187.88" stroke="#000" stroke-width="1.5" stroke-linecap="butt"/>
<line x1="414.80" y1="205.64" x2="420.60" y2="205.64" stroke="#000" stroke-width="1.5" stroke-linecap="butt"/>
<line x1="422.10" y1="187.88" x2="422.10" y2="205.64" stroke="#000" stroke-width="1.5" stroke-linecap="butt"/>
<line x1="419.20" y1="187.88" x2="425.00" y2="187.88" stroke="#000" stroke-width="1.5" stroke-linecap="butt"/>
<line x1="419.20" y1="205.64" x2="425.00" y2="205.64" stroke="#000" stroke-width="1.5" stroke-linecap="butt"/>
<line x1="426.94" y1="203.42" x2="426.94" y2="225.62" stroke="#000" stroke-width="1.5" stroke-linecap="butt"/>
<line x1="424.04" y1="203.42" x2="429.84" y2="203.42" stroke="#000" stroke-width="1.5" stroke-linecap="butt"/>
<line x1="424.04" y1="225.62" x2="429.84" y2="225.62" stroke="#000" stroke-width="1.5" stroke-linecap="butt"/>
<line x1="433.10" y1="201.20" x2="433.10" y2="227.84" stroke="#000" stroke-width="1.5" stroke-linecap="butt"/>
<line x1="430.20" y1="201.20" x2="436.00" y2="201.20" stroke="#000" stroke-width="1.5" stroke-linecap="butt"/>
<line x1="430.20" y1="227.84" x2="436.00" y2="227.84" stroke="#000" stroke-width="1.5" stroke-linecap="butt"/>
<line x1="437.50" y1="202.31" x2="437.50" y2="228.95" stroke="#000" stroke-width="1.5" stroke-linecap="butt"/>
<line x1="434.60" y1="202.31" x2="440.40" y2="202.31" stroke="#000" stroke-width="1.5" stroke-linecap="butt"/>
<line x1="434.60" y1="228.95" x2="440.40" y2="228.95" stroke="#000" stroke-width="1.5" stroke-linecap="butt"/>
<line x1="448.50" y1="203.42" x2="448.50" y2="230.06" stroke="#000" stroke-width="1.5" stroke-linecap="butt"/>
<line x1="445.60" y1="203.42" x2="451.40" y2="203.42" stroke="#000" stroke-width="1.5" stroke-linecap="butt"/>
<line x1="445.60" y1="230.06" x2="451.40" y2="230.06" stroke="#000" stroke-width="1.5" stroke-linecap="butt"/>
<line x1="455.10" y1="188.99" x2="455.10" y2="211.19" stroke="#000" stroke-width="1.5" stroke-linecap="butt"/>
<line x1="452.20" y1="188.99" x2="458.00" y2="188.99" stroke="#000" stroke-width="1.5" stroke-linecap="butt"/>
<line x1="452.20" y1="211.19" x2="458.00" y2="211.19" stroke="#000" stroke-width="1.5" stroke-linecap="butt"/>
<line x1="460.82" y1="191.21" x2="460.82" y2="211.19" stroke="#000" stroke-width="1.5" stroke-linecap="butt"/>
<line x1="457.92" y1="191.21" x2="463.72" y2="191.21" stroke="#000" stroke-width="1.5" stroke-linecap="butt"/>
<line x1="457.92" y1="211.19" x2="463.72" y2="211.19" stroke="#000" stroke-width="1.5" stroke-linecap="butt"/>
<line x1="466.10" y1="198.98" x2="466.10" y2="221.18" stroke="#000" stroke-width="1.5" stroke-linecap="butt"/>
<line x1="463.20" y1="198.98" x2="469.00" y2="198.98" stroke="#000" stroke-width="1.5" stroke-linecap="butt"/>
<line x1="463.20" y1="221.18" x2="469.00" y2="221.18" stroke="#000" stroke-width="1.5" stroke-linecap="butt"/>
<line x1="470.50" y1="202.31" x2="470.50" y2="224.51" stroke="#000" stroke-width="1.5" stroke-linecap="butt"/>
<line x1="467.60" y1="202.31" x2="473.40" y2="202.31" stroke="#000" stroke-width="1.5" stroke-linecap="butt"/>
<line x1="467.60" y1="224.51" x2="473.40" y2="224.51" stroke="#000" stroke-width="1.5" stroke-linecap="butt"/>
<line x1="474.90" y1="203.42" x2="474.90" y2="225.62" stroke="#000" stroke-width="1.5" stroke-linecap="butt"/>
<line x1="472.00" y1="203.42" x2="477.80" y2="203.42" stroke="#000" stroke-width="1.5" stroke-linecap="butt"/>
<line x1="472.00" y1="225.62" x2="477.80" y2="225.62" stroke="#000" stroke-width="1.5" stroke-linecap="butt"/>
<line x1="479.30" y1="203.42" x2="479.30" y2="225.62" stroke="#000" stroke-width="1.5" stroke-linecap="butt"/>
<line x1="476.40" y1="203.42" x2="482.20" y2="203.42" stroke="#000" stroke-width="1.5" stroke-linecap="butt"/>
<line x1="476.40" y1="225.62" x2="482.20" y2="225.62" stroke="#000" stroke-width="1.5" stroke-linecap="butt"/>
<line x1="482.82" y1="203.42" x2="482.82" y2="225.62" stroke="#000" stroke-width="1.5" stroke-linecap="butt"/>
<line x1="479.92" y1="203.42" x2="485.72" y2="203.42" stroke="#000" stroke-width="1.5" stroke-linecap="butt"/>
<line x1="479.92" y1="225.62" x2="485.72" y2="225.62" stroke="#000" stroke-width="1.5" stroke-linecap="butt"/>
<line x1="487.22" y1="197.87" x2="487.22" y2="215.63" stroke="#000" stroke-width="1.5" stroke-linecap="butt"/>
<line x1="484.32" y1="197.87" x2="490.12" y2="197.87" stroke="#000" stroke-width="1.5" stroke-linecap="butt"/>
<line x1="484.32" y1="215.63" x2="490.12" y2="215.63" stroke="#000" stroke-width="1.5" stroke-linecap="butt"/>
<circle cx="360.06" cy="272.24" r="3.15" fill="#fff" stroke="#000" stroke-width="1.5"/>
<circle cx="364.46" cy="258.92" r="3.15" fill="#fff" stroke="#000" stroke-width="1.5"/>
<circle cx="369.30" cy="246.71" r="3.15" fill="#fff" stroke="#000" stroke-width="1.5"/>
<circle cx="373.26" cy="252.26" r="3.15" fill="#fff" stroke="#000" stroke-width="1.5"/>
<circle cx="377.66" cy="245.60" r="3.15" fill="#fff" stroke="#000" stroke-width="1.5"/>
<circle cx="384.70" cy="238.94" r="3.15" fill="#fff" stroke="#000" stroke-width="1.5"/>
<circle cx="386.90" cy="201.20" r="3.15" fill="#fff" stroke="#000" stroke-width="1.5"/>
<circle cx="393.50" cy="204.53" r="3.15" fill="#fff" stroke="#000" stroke-width="1.5"/>
<circle cx="395.70" cy="193.43" r="3.15" fill="#fff" stroke="#000" stroke-width="1.5"/>
<circle cx="400.10" cy="194.54" r="3.15" fill="#fff" stroke="#000" stroke-width="1.5"/>
<circle cx="408.90" cy="193.43" r="3.15" fill="#fff" stroke="#000" stroke-width="1.5"/>
<circle cx="411.10" cy="197.87" r="3.15" fill="#fff" stroke="#000" stroke-width="1.5"/>
<circle cx="417.70" cy="196.76" r="3.15" fill="#fff" stroke="#000" stroke-width="1.5"/>
<circle cx="422.10" cy="196.76" r="3.15" fill="#fff" stroke="#000" stroke-width="1.5"/>
<circle cx="426.94" cy="214.52" r="3.15" fill="#fff" stroke="#000" stroke-width="1.5"/>
<circle cx="433.10" cy="214.52" r="3.15" fill="#fff" stroke="#000" stroke-width="1.5"/>
<circle cx="437.50" cy="215.63" r="3.15" fill="#fff" stroke="#000" stroke-width="1.5"/>
<circle cx="448.50" cy="216.74" r="3.15" fill="#fff" stroke="#000" stroke-width="1.5"/>
<circle cx="455.10" cy="200.09" r="3.15" fill="#fff" stroke="#000" stroke-width="1.5"/>
<circle cx="460.82" cy="201.20" r="3.15" fill="#fff" stroke="#000" stroke-width="1.5"/>
<circle cx="466.10" cy="210.08" r="3.15" fill="#fff" stroke="#000" stroke-width="1.5"/>
<circle cx="470.50" cy="213.41" r="3.15" fill="#fff" stroke="#000" stroke-width="1.5"/>
<circle cx="474.90" cy="214.52" r="3.15" fill="#fff" stroke="#000" stroke-width="1.5"/>
<circle cx="479.30" cy="214.52" r="3.15" fill="#fff" stroke="#000" stroke-width="1.5"/>
<circle cx="482.82" cy="214.52" r="3.15" fill="#fff" stroke="#000" stroke-width="1.5"/>
<circle cx="487.22" cy="206.75" r="3.15" fill="#fff" stroke="#000" stroke-width="1.5"/>
<path d="M359.62,274.46 L362.70,270.02 L367.10,266.69 L371.50,262.25 L375.90,260.03 L380.30,258.92 L384.70,256.70 L389.10,256.70 L393.50,259.36 L395.70,243.38 L400.10,236.72 L406.70,220.07 L410.22,232.28 L417.70,221.18 L422.10,221.18 L426.50,223.40 L430.90,224.51 L438.82,212.30 L448.50,215.63 L454.22,211.19 L461.70,212.30 L468.30,215.63 L474.90,217.85 L481.50,217.85 L487.22,215.63" fill="none" stroke="#000" stroke-width="1.6" stroke-linejoin="miter"/>
<line x1="359.62" y1="272.68" x2="359.62" y2="276.24" stroke="#000" stroke-width="1.5" stroke-linecap="butt"/>
<line x1="356.72" y1="272.68" x2="362.52" y2="272.68" stroke="#000" stroke-width="1.5" stroke-linecap="butt"/>
<line x1="356.72" y1="276.24" x2="362.52" y2="276.24" stroke="#000" stroke-width="1.5" stroke-linecap="butt"/>
<line x1="362.70" y1="265.58" x2="362.70" y2="274.46" stroke="#000" stroke-width="1.5" stroke-linecap="butt"/>
<line x1="359.80" y1="265.58" x2="365.60" y2="265.58" stroke="#000" stroke-width="1.5" stroke-linecap="butt"/>
<line x1="359.80" y1="274.46" x2="365.60" y2="274.46" stroke="#000" stroke-width="1.5" stroke-linecap="butt"/>
<line x1="367.10" y1="260.03" x2="367.10" y2="273.35" stroke="#000" stroke-width="1.5" stroke-linecap="butt"/>
<line x1="364.20" y1="260.03" x2="370.00" y2="260.03" stroke="#000" stroke-width="1.5" stroke-linecap="butt"/>
<line x1="364.20" y1="273.35" x2="370.00" y2="273.35" stroke="#000" stroke-width="1.5" stroke-linecap="butt"/>
<line x1="371.50" y1="254.48" x2="371.50" y2="270.02" stroke="#000" stroke-width="1.5" stroke-linecap="butt"/>
<line x1="368.60" y1="254.48" x2="374.40" y2="254.48" stroke="#000" stroke-width="1.5" stroke-linecap="butt"/>
<line x1="368.60" y1="270.02" x2="374.40" y2="270.02" stroke="#000" stroke-width="1.5" stroke-linecap="butt"/>
<line x1="375.90" y1="251.15" x2="375.90" y2="268.91" stroke="#000" stroke-width="1.5" stroke-linecap="butt"/>
<line x1="373.00" y1="251.15" x2="378.80" y2="251.15" stroke="#000" stroke-width="1.5" stroke-linecap="butt"/>
<line x1="373.00" y1="268.91" x2="378.80" y2="268.91" stroke="#000" stroke-width="1.5" stroke-linecap="butt"/>
<line x1="380.30" y1="248.93" x2="380.30" y2="268.91" stroke="#000" stroke-width="1.5" stroke-linecap="butt"/>
<line x1="377.40" y1="248.93" x2="383.20" y2="248.93" stroke="#000" stroke-width="1.5" stroke-linecap="butt"/>
<line x1="377.40" y1="268.91" x2="383.20" y2="268.91" stroke="#000" stroke-width="1.5" stroke-linecap="butt"/>
<line x1="384.70" y1="245.60" x2="384.70" y2="267.80" stroke="#000" stroke-width="1.5" stroke-linecap="butt"/>
<line x1="381.80" y1="245.60" x2="387.60" y2="245.60" stroke="#000" stroke-width="1.5" stroke-linecap="butt"/>
<line x1="381.80" y1="267.80" x2="387.60" y2="267.80" stroke="#000" stroke-width="1.5" stroke-linecap="butt"/>
<line x1="389.10" y1="245.60" x2="389.10" y2="267.80" stroke="#000" stroke-width="1.5" stroke-linecap="butt"/>
<line x1="386.20" y1="245.60" x2="392.00" y2="245.60" stroke="#000" stroke-width="1.5" stroke-linecap="butt"/>
<line x1="386.20" y1="267.80" x2="392.00" y2="267.80" stroke="#000" stroke-width="1.5" stroke-linecap="butt"/>
<line x1="393.50" y1="247.15" x2="393.50" y2="271.57" stroke="#000" stroke-width="1.5" stroke-linecap="butt"/>
<line x1="390.60" y1="247.15" x2="396.40" y2="247.15" stroke="#000" stroke-width="1.5" stroke-linecap="butt"/>
<line x1="390.60" y1="271.57" x2="396.40" y2="271.57" stroke="#000" stroke-width="1.5" stroke-linecap="butt"/>
<line x1="395.70" y1="227.84" x2="395.70" y2="258.92" stroke="#000" stroke-width="1.5" stroke-linecap="butt"/>
<line x1="392.80" y1="227.84" x2="398.60" y2="227.84" stroke="#000" stroke-width="1.5" stroke-linecap="butt"/>
<line x1="392.80" y1="258.92" x2="398.60" y2="258.92" stroke="#000" stroke-width="1.5" stroke-linecap="butt"/>
<line x1="400.10" y1="225.62" x2="400.10" y2="247.82" stroke="#000" stroke-width="1.5" stroke-linecap="butt"/>
<line x1="397.20" y1="225.62" x2="403.00" y2="225.62" stroke="#000" stroke-width="1.5" stroke-linecap="butt"/>
<line x1="397.20" y1="247.82" x2="403.00" y2="247.82" stroke="#000" stroke-width="1.5" stroke-linecap="butt"/>
<line x1="406.70" y1="206.75" x2="406.70" y2="233.39" stroke="#000" stroke-width="1.5" stroke-linecap="butt"/>
<line x1="403.80" y1="206.75" x2="409.60" y2="206.75" stroke="#000" stroke-width="1.5" stroke-linecap="butt"/>
<line x1="403.80" y1="233.39" x2="409.60" y2="233.39" stroke="#000" stroke-width="1.5" stroke-linecap="butt"/>
<line x1="410.22" y1="216.74" x2="410.22" y2="247.82" stroke="#000" stroke-width="1.5" stroke-linecap="butt"/>
<line x1="407.32" y1="216.74" x2="413.12" y2="216.74" stroke="#000" stroke-width="1.5" stroke-linecap="butt"/>
<line x1="407.32" y1="247.82" x2="413.12" y2="247.82" stroke="#000" stroke-width="1.5" stroke-linecap="butt"/>
<line x1="417.70" y1="205.64" x2="417.70" y2="236.72" stroke="#000" stroke-width="1.5" stroke-linecap="butt"/>
<line x1="414.80" y1="205.64" x2="420.60" y2="205.64" stroke="#000" stroke-width="1.5" stroke-linecap="butt"/>
<line x1="414.80" y1="236.72" x2="420.60" y2="236.72" stroke="#000" stroke-width="1.5" stroke-linecap="butt"/>
<line x1="422.10" y1="205.64" x2="422.10" y2="236.72" stroke="#000" stroke-width="1.5" stroke-linecap="butt"/>
<line x1="419.20" y1="205.64" x2="425.00" y2="205.64" stroke="#000" stroke-width="1.5" stroke-linecap="butt"/>
<line x1="419.20" y1="236.72" x2="425.00" y2="236.72" stroke="#000" stroke-width="1.5" stroke-linecap="butt"/>
<line x1="426.50" y1="208.97" x2="426.50" y2="237.83" stroke="#000" stroke-width="1.5" stroke-linecap="butt"/>
<line x1="423.60" y1="208.97" x2="429.40" y2="208.97" stroke="#000" stroke-width="1.5" stroke-linecap="butt"/>
<line x1="423.60" y1="237.83" x2="429.40" y2="237.83" stroke="#000" stroke-width="1.5" stroke-linecap="butt"/>
<line x1="430.90" y1="211.19" x2="430.90" y2="237.83" stroke="#000" stroke-width="1.5" stroke-linecap="butt"/>
<line x1="428.00" y1="211.19" x2="433.80" y2="211.19" stroke="#000" stroke-width="1.5" stroke-linecap="butt"/>
<line x1="428.00" y1="237.83" x2="433.80" y2="237.83" stroke="#000" stroke-width="1.5" stroke-linecap="butt"/>
<line x1="438.82" y1="198.98" x2="438.82" y2="225.62" stroke="#000" stroke-width="1.5" stroke-linecap="butt"/>
<line x1="435.92" y1="198.98" x2="441.72" y2="198.98" stroke="#000" stroke-width="1.5" stroke-linecap="butt"/>
<line x1="435.92" y1="225.62" x2="441.72" y2="225.62" stroke="#000" stroke-width="1.5" stroke-linecap="butt"/>
<line x1="448.50" y1="204.53" x2="448.50" y2="226.73" stroke="#000" stroke-width="1.5" stroke-linecap="butt"/>
<line x1="445.60" y1="204.53" x2="451.40" y2="204.53" stroke="#000" stroke-width="1.5" stroke-linecap="butt"/>
<line x1="445.60" y1="226.73" x2="451.40" y2="226.73" stroke="#000" stroke-width="1.5" stroke-linecap="butt"/>
<line x1="454.22" y1="200.09" x2="454.22" y2="222.29" stroke="#000" stroke-width="1.5" stroke-linecap="butt"/>
<line x1="451.32" y1="200.09" x2="457.12" y2="200.09" stroke="#000" stroke-width="1.5" stroke-linecap="butt"/>
<line x1="451.32" y1="222.29" x2="457.12" y2="222.29" stroke="#000" stroke-width="1.5" stroke-linecap="butt"/>
<line x1="461.70" y1="201.20" x2="461.70" y2="223.40" stroke="#000" stroke-width="1.5" stroke-linecap="butt"/>
<line x1="458.80" y1="201.20" x2="464.60" y2="201.20" stroke="#000" stroke-width="1.5" stroke-linecap="butt"/>
<line x1="458.80" y1="223.40" x2="464.60" y2="223.40" stroke="#000" stroke-width="1.5" stroke-linecap="butt"/>
<line x1="468.30" y1="204.53" x2="468.30" y2="226.73" stroke="#000" stroke-width="1.5" stroke-linecap="butt"/>
<line x1="465.40" y1="204.53" x2="471.20" y2="204.53" stroke="#000" stroke-width="1.5" stroke-linecap="butt"/>
<line x1="465.40" y1="226.73" x2="471.20" y2="226.73" stroke="#000" stroke-width="1.5" stroke-linecap="butt"/>
<line x1="474.90" y1="206.75" x2="474.90" y2="228.95" stroke="#000" stroke-width="1.5" stroke-linecap="butt"/>
<line x1="472.00" y1="206.75" x2="477.80" y2="206.75" stroke="#000" stroke-width="1.5" stroke-linecap="butt"/>
<line x1="472.00" y1="228.95" x2="477.80" y2="228.95" stroke="#000" stroke-width="1.5" stroke-linecap="butt"/>
<line x1="481.50" y1="206.75" x2="481.50" y2="228.95" stroke="#000" stroke-width="1.5" stroke-linecap="butt"/>
<line x1="478.60" y1="206.75" x2="484.40" y2="206.75" stroke="#000" stroke-width="1.5" stroke-linecap="butt"/>
<line x1="478.60" y1="228.95" x2="484.40" y2="228.95" stroke="#000" stroke-width="1.5" stroke-linecap="butt"/>
<line x1="487.22" y1="204.53" x2="487.22" y2="226.73" stroke="#000" stroke-width="1.5" stroke-linecap="butt"/>
<line x1="484.32" y1="204.53" x2="490.12" y2="204.53" stroke="#000" stroke-width="1.5" stroke-linecap="butt"/>
<line x1="484.32" y1="226.73" x2="490.12" y2="226.73" stroke="#000" stroke-width="1.5" stroke-linecap="butt"/>
<circle cx="359.62" cy="274.46" r="3.0" fill="#000" stroke="#000" stroke-width="1.5"/>
<circle cx="362.70" cy="270.02" r="3.0" fill="#000" stroke="#000" stroke-width="1.5"/>
<circle cx="367.10" cy="266.69" r="3.0" fill="#000" stroke="#000" stroke-width="1.5"/>
<circle cx="371.50" cy="262.25" r="3.0" fill="#000" stroke="#000" stroke-width="1.5"/>
<circle cx="375.90" cy="260.03" r="3.0" fill="#000" stroke="#000" stroke-width="1.5"/>
<circle cx="380.30" cy="258.92" r="3.0" fill="#000" stroke="#000" stroke-width="1.5"/>
<circle cx="384.70" cy="256.70" r="3.0" fill="#000" stroke="#000" stroke-width="1.5"/>
<circle cx="389.10" cy="256.70" r="3.0" fill="#000" stroke="#000" stroke-width="1.5"/>
<circle cx="393.50" cy="259.36" r="3.0" fill="#000" stroke="#000" stroke-width="1.5"/>
<circle cx="395.70" cy="243.38" r="3.0" fill="#000" stroke="#000" stroke-width="1.5"/>
<circle cx="400.10" cy="236.72" r="3.0" fill="#000" stroke="#000" stroke-width="1.5"/>
<circle cx="406.70" cy="220.07" r="3.0" fill="#000" stroke="#000" stroke-width="1.5"/>
<circle cx="410.22" cy="232.28" r="3.0" fill="#000" stroke="#000" stroke-width="1.5"/>
<circle cx="417.70" cy="221.18" r="3.0" fill="#000" stroke="#000" stroke-width="1.5"/>
<circle cx="422.10" cy="221.18" r="3.0" fill="#000" stroke="#000" stroke-width="1.5"/>
<circle cx="426.50" cy="223.40" r="3.0" fill="#000" stroke="#000" stroke-width="1.5"/>
<circle cx="430.90" cy="224.51" r="3.0" fill="#000" stroke="#000" stroke-width="1.5"/>
<circle cx="438.82" cy="212.30" r="3.0" fill="#000" stroke="#000" stroke-width="1.5"/>
<circle cx="448.50" cy="215.63" r="3.0" fill="#000" stroke="#000" stroke-width="1.5"/>
<circle cx="454.22" cy="211.19" r="3.0" fill="#000" stroke="#000" stroke-width="1.5"/>
<circle cx="461.70" cy="212.30" r="3.0" fill="#000" stroke="#000" stroke-width="1.5"/>
<circle cx="468.30" cy="215.63" r="3.0" fill="#000" stroke="#000" stroke-width="1.5"/>
<circle cx="474.90" cy="217.85" r="3.0" fill="#000" stroke="#000" stroke-width="1.5"/>
<circle cx="481.50" cy="217.85" r="3.0" fill="#000" stroke="#000" stroke-width="1.5"/>
<circle cx="487.22" cy="215.63" r="3.0" fill="#000" stroke="#000" stroke-width="1.5"/>
<line x1="436.50" y1="248.10" x2="456.00" y2="248.10" stroke="#000" stroke-width="1.6" stroke-linecap="butt"/>
<circle cx="446.30" cy="248.10" r="3.2" fill="#fff" stroke="#000" stroke-width="1.5"/>
<text transform="translate(465.00,252.50) scale(1.06,1)" font-size="13" text-anchor="start" fill="#000" stroke="#000" stroke-width="0.35">Dia</text>
<line x1="436.50" y1="264.30" x2="456.00" y2="264.30" stroke="#000" stroke-width="1.6" stroke-linecap="butt"/>
<circle cx="446.30" cy="264.30" r="3.2" fill="#000" stroke="#000" stroke-width="1.5"/>
<text transform="translate(465.00,268.80) scale(1.06,1)" font-size="13" text-anchor="start" fill="#000" stroke="#000" stroke-width="0.35">Dia+A70</text>
<line x1="352.50" y1="346.00" x2="352.50" y2="431.35" stroke="#000" stroke-width="1.5" stroke-linecap="butt"/>
<line x1="351.75" y1="430.60" x2="494.00" y2="430.60" stroke="#000" stroke-width="1.5" stroke-linecap="butt"/>
<line x1="348.00" y1="430.60" x2="352.50" y2="430.60" stroke="#000" stroke-width="1.4" stroke-linecap="butt"/>
<text transform="translate(347.50,435.20) scale(1.06,1)" font-size="13" text-anchor="end" fill="#000" stroke="#000" stroke-width="0.35">0.0</text>
<line x1="348.00" y1="409.60" x2="352.50" y2="409.60" stroke="#000" stroke-width="1.4" stroke-linecap="butt"/>
<text transform="translate(347.50,414.20) scale(1.06,1)" font-size="13" text-anchor="end" fill="#000" stroke="#000" stroke-width="0.35">0.1</text>
<line x1="348.00" y1="388.60" x2="352.50" y2="388.60" stroke="#000" stroke-width="1.4" stroke-linecap="butt"/>
<text transform="translate(347.50,393.20) scale(1.06,1)" font-size="13" text-anchor="end" fill="#000" stroke="#000" stroke-width="0.35">0.2</text>
<line x1="348.00" y1="367.60" x2="352.50" y2="367.60" stroke="#000" stroke-width="1.4" stroke-linecap="butt"/>
<text transform="translate(347.50,372.20) scale(1.06,1)" font-size="13" text-anchor="end" fill="#000" stroke="#000" stroke-width="0.35">0.3</text>
<line x1="348.00" y1="346.60" x2="352.50" y2="346.60" stroke="#000" stroke-width="1.4" stroke-linecap="butt"/>
<text transform="translate(347.50,351.20) scale(1.06,1)" font-size="13" text-anchor="end" fill="#000" stroke="#000" stroke-width="0.35">0.4</text>
<text transform="translate(300.70,387.50) rotate(-90) scale(1.07,1)" font-size="13" text-anchor="middle" fill="#000" stroke="#000" stroke-width="0.35">Aggregates</text>
<text transform="translate(316.50,388.70) rotate(-90) scale(1.07,1)" font-size="13" text-anchor="middle" fill="#000" stroke="#000" stroke-width="0.35">(% total leukocytes)</text>
<line x1="369.55" y1="389.65" x2="369.55" y2="386.08" stroke="#000" stroke-width="1.4" stroke-linecap="butt"/>
<line x1="361.80" y1="386.08" x2="377.30" y2="386.08" stroke="#000" stroke-width="1.4" stroke-linecap="butt"/>
<rect x="354.30" y="389.65" width="30.50" height="40.95" fill="#fff" stroke="#000" stroke-width="1.5"/>
<line x1="405.15" y1="363.82" x2="405.15" y2="356.26" stroke="#000" stroke-width="1.4" stroke-linecap="butt"/>
<line x1="397.40" y1="356.26" x2="412.90" y2="356.26" stroke="#000" stroke-width="1.4" stroke-linecap="butt"/>
<rect x="390.00" y="363.82" width="30.30" height="66.78" fill="#fff" stroke="#000" stroke-width="1.5"/>
<rect x="391.35" y="365.17" width="27.60" height="64.68" fill="#dcdcdc"/>
<line x1="440.20" y1="378.10" x2="440.20" y2="370.75" stroke="#000" stroke-width="1.4" stroke-linecap="butt"/>
<line x1="432.45" y1="370.75" x2="447.95" y2="370.75" stroke="#000" stroke-width="1.4" stroke-linecap="butt"/>
<rect x="425.20" y="378.10" width="30.00" height="52.50" fill="url(#hat2)" stroke="#000" stroke-width="1.5"/>
<line x1="475.45" y1="384.82" x2="475.45" y2="378.94" stroke="#000" stroke-width="1.4" stroke-linecap="butt"/>
<line x1="467.70" y1="378.94" x2="483.20" y2="378.94" stroke="#000" stroke-width="1.4" stroke-linecap="butt"/>
<rect x="460.30" y="384.82" width="30.30" height="45.78" fill="#000" stroke="#000" stroke-width="1.5"/>
<text transform="translate(369.00,449.00) scale(1.06,1)" font-size="13" text-anchor="middle" fill="#000" stroke="#000" stroke-width="0.35">CTL</text>
<text transform="translate(405.00,449.00) scale(1.06,1)" font-size="13" text-anchor="middle" fill="#000" stroke="#000" stroke-width="0.35">Dia</text>
<text transform="translate(440.00,449.00) scale(1.06,1)" font-size="13" text-anchor="middle" fill="#000" stroke="#000" stroke-width="0.35">CTL</text>
<text transform="translate(475.50,449.00) scale(1.06,1)" font-size="13" text-anchor="middle" fill="#000" stroke="#000" stroke-width="0.35">Dia</text>
<text transform="translate(406.00,352.50) scale(1.3,1)" font-size="16.5" text-anchor="middle" fill="#000" stroke="#000" stroke-width="0.35">**</text>
<text transform="translate(476.30,373.00) scale(1.0,1)" font-size="13.5" text-anchor="middle" fill="#000" stroke="#000" stroke-width="0.55">#</text>
<path d="M425.3,451.7 V459.3 H444" fill="none" stroke="#000" stroke-width="1.5" stroke-linejoin="miter"/>
<path d="M490.8,451.7 V459.3 H472.5" fill="none" stroke="#000" stroke-width="1.5" stroke-linejoin="miter"/>
<text transform="translate(458.60,465.00) scale(1.06,1)" font-size="13" text-anchor="middle" fill="#000" stroke="#000" stroke-width="0.35">A70</text>
<line x1="351.30" y1="497.00" x2="351.30" y2="597.75" stroke="#000" stroke-width="1.5" stroke-linecap="butt"/>
<line x1="350.55" y1="597.00" x2="494.00" y2="597.00" stroke="#000" stroke-width="1.5" stroke-linecap="butt"/>
<line x1="346.80" y1="597.00" x2="351.30" y2="597.00" stroke="#000" stroke-width="1.4" stroke-linecap="butt"/>
<text transform="translate(346.50,601.60) scale(1.06,1)" font-size="13" text-anchor="end" fill="#000" stroke="#000" stroke-width="0.35">0</text>
<line x1="346.80" y1="577.00" x2="351.30" y2="577.00" stroke="#000" stroke-width="1.4" stroke-linecap="butt"/>
<text transform="translate(346.50,581.60) scale(1.06,1)" font-size="13" text-anchor="end" fill="#000" stroke="#000" stroke-width="0.35">20</text>
<line x1="346.80" y1="557.00" x2="351.30" y2="557.00" stroke="#000" stroke-width="1.4" stroke-linecap="butt"/>
<text transform="translate(346.50,561.60) scale(1.06,1)" font-size="13" text-anchor="end" fill="#000" stroke="#000" stroke-width="0.35">40</text>
<line x1="346.80" y1="537.00" x2="351.30" y2="537.00" stroke="#000" stroke-width="1.4" stroke-linecap="butt"/>
<text transform="translate(346.50,541.60) scale(1.06,1)" font-size="13" text-anchor="end" fill="#000" stroke="#000" stroke-width="0.35">60</text>
<line x1="346.80" y1="517.00" x2="351.30" y2="517.00" stroke="#000" stroke-width="1.4" stroke-linecap="butt"/>
<text transform="translate(346.50,521.60) scale(1.06,1)" font-size="13" text-anchor="end" fill="#000" stroke="#000" stroke-width="0.35">80</text>
<line x1="346.80" y1="497.00" x2="351.30" y2="497.00" stroke="#000" stroke-width="1.4" stroke-linecap="butt"/>
<text transform="translate(346.50,501.60) scale(1.06,1)" font-size="13" text-anchor="end" fill="#000" stroke="#000" stroke-width="0.35">100</text>
<text transform="translate(315.20,547.30) rotate(-90) scale(1.065,1)" font-size="13" text-anchor="middle" fill="#000" stroke="#000" stroke-width="0.35">Aggregation (% max)</text>
<text transform="translate(421.00,632.00) scale(1.0,1)" font-size="13" text-anchor="middle" fill="#000" stroke="#000" stroke-width="0.35">Thrombin (U/ml)</text>
<line x1="357.70" y1="593.00" x2="357.70" y2="592.00" stroke="#000" stroke-width="1.3" stroke-linecap="butt"/>
<line x1="354.90" y1="592.00" x2="360.50" y2="592.00" stroke="#000" stroke-width="1.3" stroke-linecap="butt"/>
<rect x="354.30" y="593.00" width="6.80" height="4.00" fill="#fff" stroke="#000" stroke-width="1.3"/>
<line x1="365.50" y1="592.00" x2="365.50" y2="590.50" stroke="#000" stroke-width="1.3" stroke-linecap="butt"/>
<line x1="362.70" y1="590.50" x2="368.30" y2="590.50" stroke="#000" stroke-width="1.3" stroke-linecap="butt"/>
<rect x="362.10" y="592.00" width="6.80" height="5.00" fill="url(#hat)" stroke="#000" stroke-width="1.3"/>
<line x1="373.30" y1="593.50" x2="373.30" y2="592.50" stroke="#000" stroke-width="1.3" stroke-linecap="butt"/>
<line x1="370.50" y1="592.50" x2="376.10" y2="592.50" stroke="#000" stroke-width="1.3" stroke-linecap="butt"/>
<rect x="369.90" y="593.50" width="6.80" height="3.50" fill="#fff" stroke="#000" stroke-width="1.3"/>
<rect x="371.20" y="594.80" width="4.20" height="1.50" fill="#d9d9d9"/>
<line x1="381.60" y1="595.00" x2="381.60" y2="594.30" stroke="#000" stroke-width="1.3" stroke-linecap="butt"/>
<line x1="378.80" y1="594.30" x2="384.40" y2="594.30" stroke="#000" stroke-width="1.3" stroke-linecap="butt"/>
<rect x="377.70" y="595.00" width="7.80" height="2.00" fill="#000" stroke="#000" stroke-width="1.3"/>
<text transform="translate(369.50,615.00) scale(1.06,1)" font-size="13" text-anchor="middle" fill="#000" stroke="#000" stroke-width="0.35">0.01</text>
<line x1="392.90" y1="565.00" x2="392.90" y2="561.00" stroke="#000" stroke-width="1.3" stroke-linecap="butt"/>
<line x1="390.10" y1="561.00" x2="395.70" y2="561.00" stroke="#000" stroke-width="1.3" stroke-linecap="butt"/>
<rect x="389.50" y="565.00" width="6.80" height="32.00" fill="#fff" stroke="#000" stroke-width="1.3"/>
<line x1="400.70" y1="567.00" x2="400.70" y2="563.50" stroke="#000" stroke-width="1.3" stroke-linecap="butt"/>
<line x1="397.90" y1="563.50" x2="403.50" y2="563.50" stroke="#000" stroke-width="1.3" stroke-linecap="butt"/>
<rect x="397.30" y="567.00" width="6.80" height="30.00" fill="url(#hat)" stroke="#000" stroke-width="1.3"/>
<line x1="408.50" y1="547.00" x2="408.50" y2="542.00" stroke="#000" stroke-width="1.3" stroke-linecap="butt"/>
<line x1="405.70" y1="542.00" x2="411.30" y2="542.00" stroke="#000" stroke-width="1.3" stroke-linecap="butt"/>
<rect x="405.10" y="547.00" width="6.80" height="50.00" fill="#fff" stroke="#000" stroke-width="1.3"/>
<rect x="406.40" y="548.30" width="4.20" height="48.00" fill="#d9d9d9"/>
<line x1="416.80" y1="583.00" x2="416.80" y2="579.00" stroke="#000" stroke-width="1.3" stroke-linecap="butt"/>
<line x1="414.00" y1="579.00" x2="419.60" y2="579.00" stroke="#000" stroke-width="1.3" stroke-linecap="butt"/>
<rect x="412.90" y="583.00" width="7.80" height="14.00" fill="#000" stroke="#000" stroke-width="1.3"/>
<text transform="translate(405.00,615.00) scale(1.06,1)" font-size="13" text-anchor="middle" fill="#000" stroke="#000" stroke-width="0.35">0.03</text>
<line x1="428.10" y1="530.00" x2="428.10" y2="528.50" stroke="#000" stroke-width="1.3" stroke-linecap="butt"/>
<line x1="425.30" y1="528.50" x2="430.90" y2="528.50" stroke="#000" stroke-width="1.3" stroke-linecap="butt"/>
<rect x="424.70" y="530.00" width="6.80" height="67.00" fill="#fff" stroke="#000" stroke-width="1.3"/>
<line x1="435.90" y1="541.00" x2="435.90" y2="536.00" stroke="#000" stroke-width="1.3" stroke-linecap="butt"/>
<line x1="433.10" y1="536.00" x2="438.70" y2="536.00" stroke="#000" stroke-width="1.3" stroke-linecap="butt"/>
<rect x="432.50" y="541.00" width="6.80" height="56.00" fill="url(#hat)" stroke="#000" stroke-width="1.3"/>
<line x1="443.70" y1="523.00" x2="443.70" y2="516.50" stroke="#000" stroke-width="1.3" stroke-linecap="butt"/>
<line x1="440.90" y1="516.50" x2="446.50" y2="516.50" stroke="#000" stroke-width="1.3" stroke-linecap="butt"/>
<rect x="440.30" y="523.00" width="6.80" height="74.00" fill="#fff" stroke="#000" stroke-width="1.3"/>
<rect x="441.60" y="524.30" width="4.20" height="72.00" fill="#d9d9d9"/>
<line x1="452.00" y1="553.00" x2="452.00" y2="551.00" stroke="#000" stroke-width="1.3" stroke-linecap="butt"/>
<line x1="449.20" y1="551.00" x2="454.80" y2="551.00" stroke="#000" stroke-width="1.3" stroke-linecap="butt"/>
<rect x="448.10" y="553.00" width="7.80" height="44.00" fill="#000" stroke="#000" stroke-width="1.3"/>
<text transform="translate(440.00,615.00) scale(1.06,1)" font-size="13" text-anchor="middle" fill="#000" stroke="#000" stroke-width="0.35">0.1</text>
<line x1="463.40" y1="520.00" x2="463.40" y2="519.00" stroke="#000" stroke-width="1.3" stroke-linecap="butt"/>
<line x1="460.60" y1="519.00" x2="466.20" y2="519.00" stroke="#000" stroke-width="1.3" stroke-linecap="butt"/>
<rect x="460.00" y="520.00" width="6.80" height="77.00" fill="#fff" stroke="#000" stroke-width="1.3"/>
<line x1="471.20" y1="531.00" x2="471.20" y2="527.50" stroke="#000" stroke-width="1.3" stroke-linecap="butt"/>
<line x1="468.40" y1="527.50" x2="474.00" y2="527.50" stroke="#000" stroke-width="1.3" stroke-linecap="butt"/>
<rect x="467.80" y="531.00" width="6.80" height="66.00" fill="url(#hat)" stroke="#000" stroke-width="1.3"/>
<line x1="479.00" y1="518.00" x2="479.00" y2="513.50" stroke="#000" stroke-width="1.3" stroke-linecap="butt"/>
<line x1="476.20" y1="513.50" x2="481.80" y2="513.50" stroke="#000" stroke-width="1.3" stroke-linecap="butt"/>
<rect x="475.60" y="518.00" width="6.80" height="79.00" fill="#fff" stroke="#000" stroke-width="1.3"/>
<rect x="476.90" y="519.30" width="4.20" height="77.00" fill="#d9d9d9"/>
<line x1="487.30" y1="540.00" x2="487.30" y2="537.00" stroke="#000" stroke-width="1.3" stroke-linecap="butt"/>
<line x1="484.50" y1="537.00" x2="490.10" y2="537.00" stroke="#000" stroke-width="1.3" stroke-linecap="butt"/>
<rect x="483.40" y="540.00" width="7.80" height="57.00" fill="#000" stroke="#000" stroke-width="1.3"/>
<text transform="translate(476.00,615.00) scale(1.06,1)" font-size="13" text-anchor="middle" fill="#000" stroke="#000" stroke-width="0.35">0.3</text>
<rect x="362.90" y="474.70" width="17.30" height="8.40" fill="#fff" stroke="#000" stroke-width="1.8"/>
<rect x="362.90" y="487.20" width="17.30" height="8.60" fill="url(#hat2)" stroke="#000" stroke-width="1.8"/>
<rect x="422.20" y="474.70" width="17.60" height="8.40" fill="#e0e0e0" stroke="#000" stroke-width="1.8"/>
<rect x="422.20" y="487.20" width="17.60" height="8.60" fill="#000" stroke="#000" stroke-width="1.8"/>
<text transform="translate(391.00,483.40) scale(1.02,1)" font-size="13" text-anchor="start" fill="#000" stroke="#000" stroke-width="0.35">CTL</text>
<text transform="translate(390.50,496.40) scale(1.06,1)" font-size="13" text-anchor="start" fill="#000" stroke="#000" stroke-width="0.35">A70</text>
<text transform="translate(450.20,483.50) scale(1.06,1)" font-size="13" text-anchor="start" fill="#000" stroke="#000" stroke-width="0.35">Dia</text>
<text transform="translate(450.20,496.40) scale(1.06,1)" font-size="13" text-anchor="start" fill="#000" stroke="#000" stroke-width="0.35">Dia+A70</text>
<text transform="translate(409.00,542.50) scale(1.06,1)" font-size="16" text-anchor="middle" fill="#000" stroke="#000" stroke-width="0.35">*</text>
<text transform="translate(417.00,562.00) scale(0.95,1)" font-size="9.5" text-anchor="middle" fill="#1a1a1a" stroke="#1a1a1a" stroke-width="0.3">#</text>
<text transform="translate(417.00,574.00) scale(0.95,1)" font-size="9.5" text-anchor="middle" fill="#1a1a1a" stroke="#1a1a1a" stroke-width="0.3">#</text>
<text transform="translate(452.00,548.00) scale(0.95,1)" font-size="9.5" text-anchor="middle" fill="#1a1a1a" stroke="#1a1a1a" stroke-width="0.3">#</text>
<text transform="translate(487.00,534.00) scale(0.95,1)" font-size="9.5" text-anchor="middle" fill="#1a1a1a" stroke="#1a1a1a" stroke-width="0.3">#</text>
</svg>
</body></html>
